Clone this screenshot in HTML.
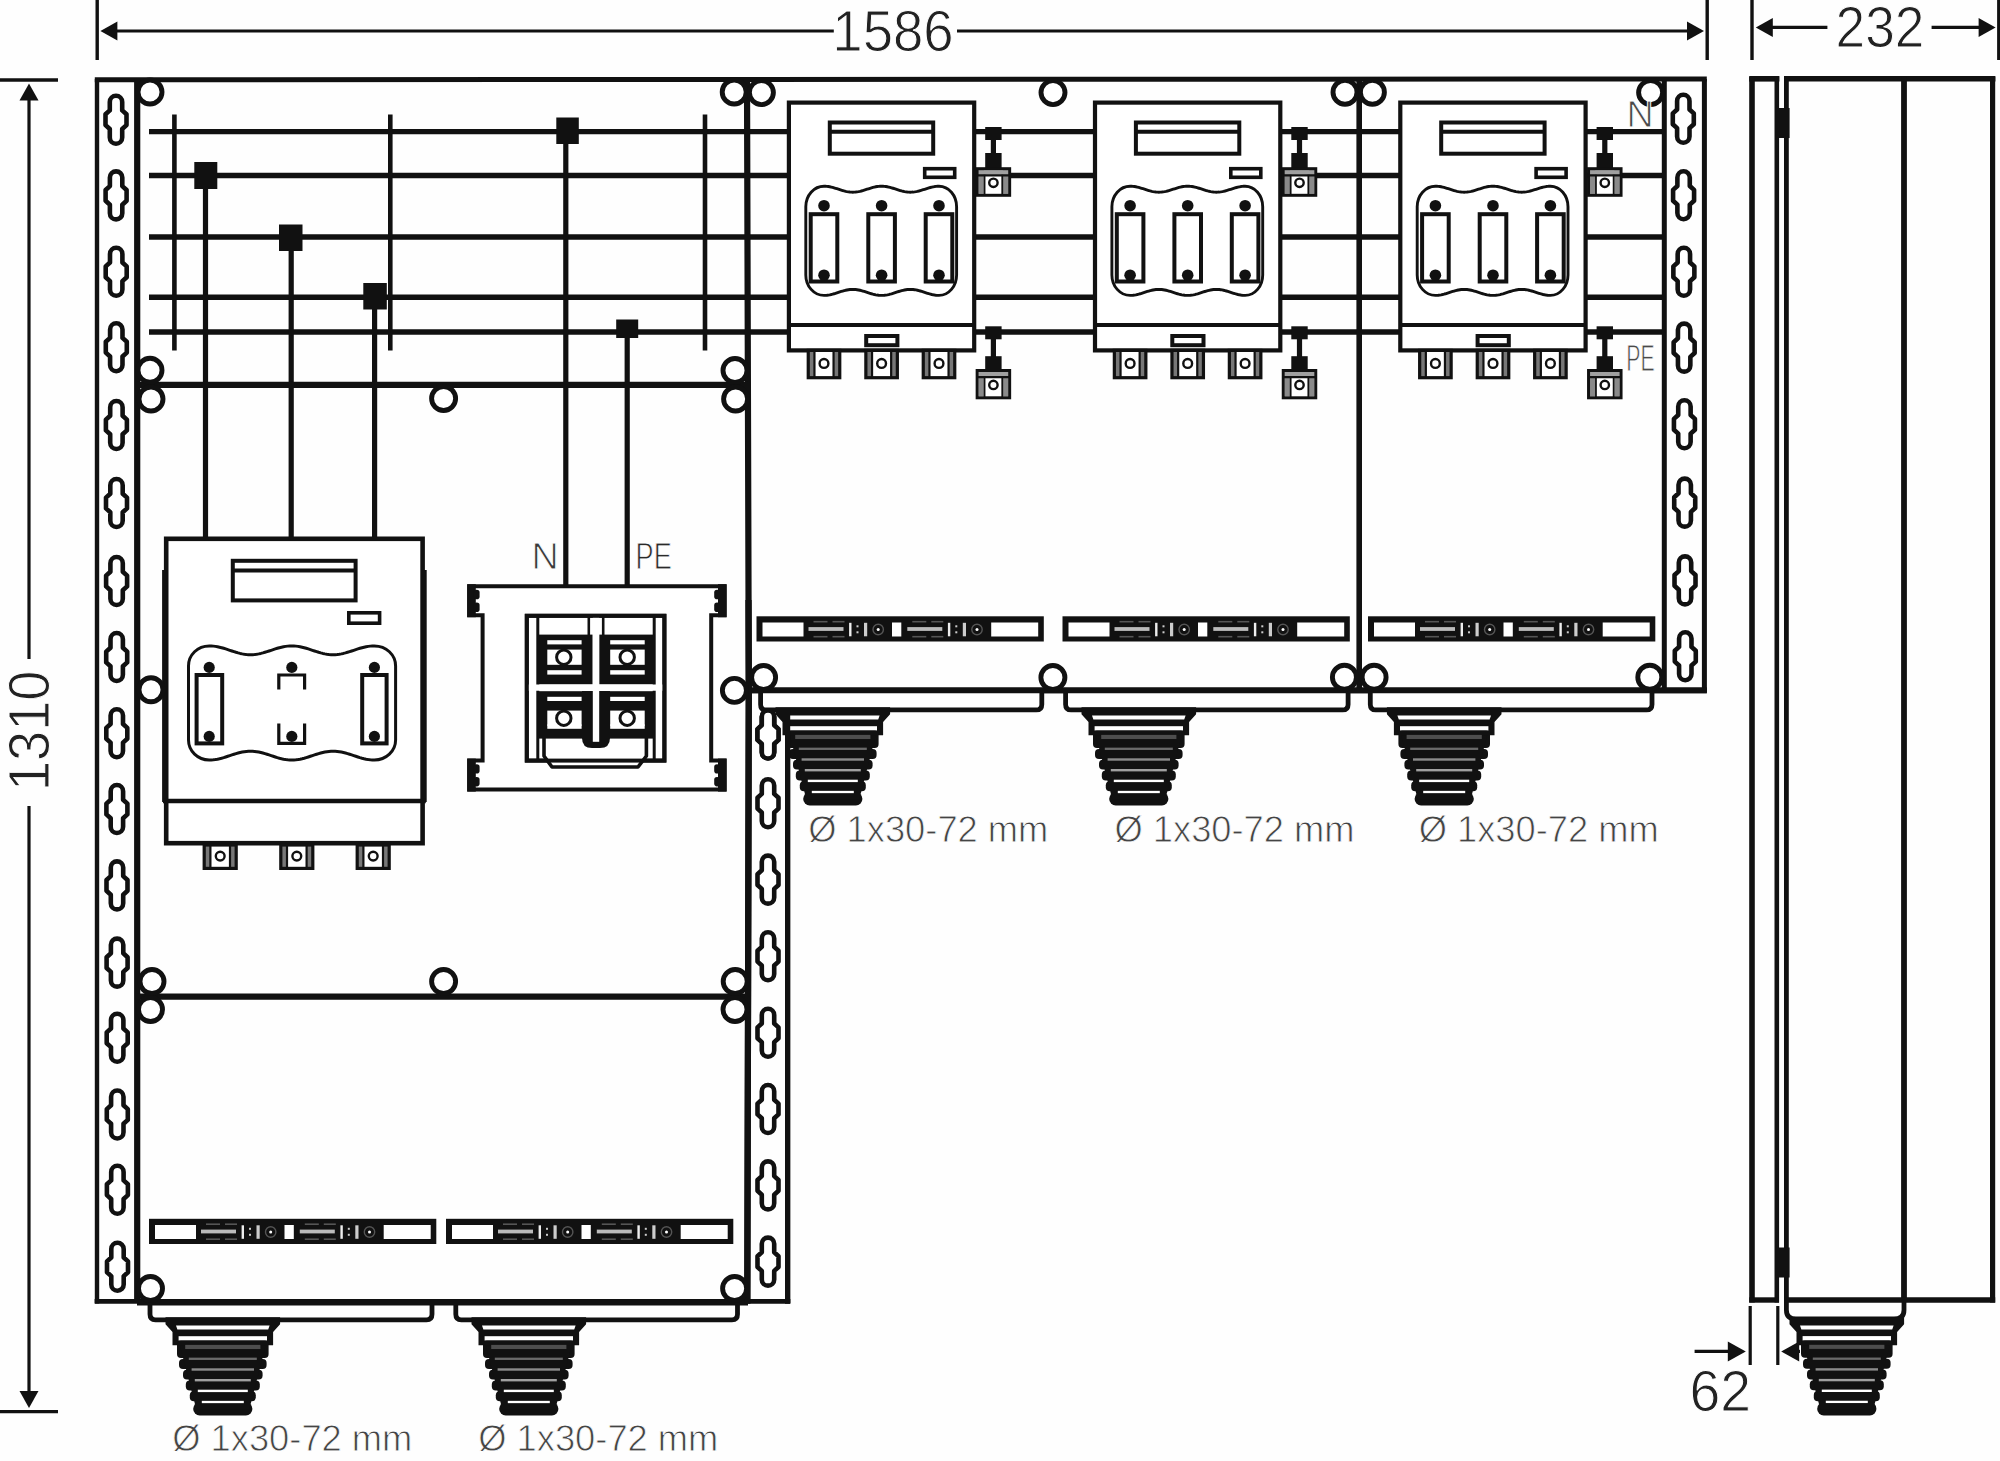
<!DOCTYPE html>
<html lang="en"><head><meta charset="utf-8"><title>Enclosure layout drawing</title>
<style>
html,body{margin:0;padding:0;background:#fff;}
body{width:2000px;height:1461px;overflow:hidden;}
svg{display:block;font-family:"Liberation Sans",sans-serif;}
</style></head><body>
<svg width="2000" height="1461" viewBox="0 0 2000 1461">
<rect x="0" y="0" width="2000" height="1461" fill="#fefefe"/>
<line x1="149" y1="131.6" x2="1664" y2="131.6" stroke="#111" stroke-width="5.4" stroke-linecap="butt"/>
<line x1="149" y1="175.5" x2="1664" y2="175.5" stroke="#111" stroke-width="5.4" stroke-linecap="butt"/>
<line x1="149" y1="237.0" x2="1664" y2="237.0" stroke="#111" stroke-width="5.4" stroke-linecap="butt"/>
<line x1="149" y1="297.3" x2="1664" y2="297.3" stroke="#111" stroke-width="5.4" stroke-linecap="butt"/>
<line x1="149" y1="332.0" x2="1664" y2="332.0" stroke="#111" stroke-width="5.4" stroke-linecap="butt"/>
<line x1="174.4" y1="114.5" x2="174.4" y2="350.5" stroke="#111" stroke-width="4.6" stroke-linecap="butt"/>
<line x1="390.3" y1="114.5" x2="390.3" y2="350.5" stroke="#111" stroke-width="4.6" stroke-linecap="butt"/>
<line x1="705.0" y1="114.5" x2="705.0" y2="350.5" stroke="#111" stroke-width="4.6" stroke-linecap="butt"/>
<line x1="205.5" y1="175" x2="205.5" y2="540" stroke="#111" stroke-width="5.2" stroke-linecap="butt"/>
<line x1="291.2" y1="237" x2="291.2" y2="540" stroke="#111" stroke-width="5.2" stroke-linecap="butt"/>
<line x1="374.6" y1="297" x2="374.6" y2="540" stroke="#111" stroke-width="5.2" stroke-linecap="butt"/>
<line x1="565.8" y1="131" x2="565.8" y2="587" stroke="#111" stroke-width="5.2" stroke-linecap="butt"/>
<line x1="627.2" y1="330" x2="627.2" y2="587" stroke="#111" stroke-width="5.2" stroke-linecap="butt"/>
<rect x="194.30" y="162.00" width="23.00" height="27.00" fill="#111"/>
<rect x="279.00" y="224.50" width="23.50" height="26.50" fill="#111"/>
<rect x="363.30" y="283.00" width="23.50" height="26.50" fill="#111"/>
<rect x="556.30" y="117.50" width="22.50" height="26.50" fill="#111"/>
<rect x="616.20" y="319.50" width="22.00" height="18.50" fill="#111"/>
<line x1="94.8" y1="79.8" x2="1706.8" y2="78.9" stroke="#111" stroke-width="5.0" stroke-linecap="butt"/>
<line x1="97" y1="79" x2="97" y2="1303.5" stroke="#111" stroke-width="4.4" stroke-linecap="butt"/>
<line x1="137.2" y1="79" x2="137.2" y2="1301" stroke="#111" stroke-width="6.2" stroke-linecap="butt"/>
<path d="M747.0,79 L748.8,690 L747.3,1303.5" fill="none" stroke="#111" stroke-width="6.2" stroke-linejoin="round"/>
<line x1="94.8" y1="1301.2" x2="790.2" y2="1301.2" stroke="#111" stroke-width="4.6" stroke-linecap="butt"/>
<line x1="787.6" y1="709" x2="787.6" y2="1303.5" stroke="#111" stroke-width="5.2" stroke-linecap="butt"/>
<line x1="137" y1="384.8" x2="748" y2="384.8" stroke="#111" stroke-width="6.2" stroke-linecap="butt"/>
<line x1="137" y1="996.6" x2="748" y2="996.6" stroke="#111" stroke-width="6.2" stroke-linecap="butt"/>
<line x1="748" y1="690.3" x2="1706.8" y2="690.3" stroke="#111" stroke-width="5.8" stroke-linecap="butt"/>
<line x1="1359.2" y1="79" x2="1359.2" y2="690" stroke="#111" stroke-width="5.6" stroke-linecap="butt"/>
<line x1="1664.3" y1="79" x2="1664.3" y2="690" stroke="#111" stroke-width="5" stroke-linecap="butt"/>
<line x1="1704.4" y1="79" x2="1704.4" y2="692" stroke="#111" stroke-width="5" stroke-linecap="butt"/>
<path d="M109.79960869565217,101.9 A6.2,6.2 0 0 1 122.19960869565217,101.9 L122.19960869565217,110.4 L126.49960869565217,114.3 L126.49960869565217,125.10000000000001 L122.19960869565217,129.0 L122.19960869565217,137.5 A6.2,6.2 0 0 1 109.79960869565217,137.5 L109.79960869565217,129.0 L105.49960869565217,125.10000000000001 L105.49960869565217,114.3 L109.79960869565217,110.4 Z" fill="#fff" stroke="#111" stroke-width="4.6" stroke-linejoin="round"/>
<path d="M109.89834782608695,177.6 A6.2,6.2 0 0 1 122.29834782608695,177.6 L122.29834782608695,186.1 L126.59834782608695,190.0 L126.59834782608695,200.8 L122.29834782608695,204.70000000000002 L122.29834782608695,213.20000000000002 A6.2,6.2 0 0 1 109.89834782608695,213.20000000000002 L109.89834782608695,204.70000000000002 L105.59834782608695,200.8 L105.59834782608695,190.0 L109.89834782608695,186.1 Z" fill="#fff" stroke="#111" stroke-width="4.6" stroke-linejoin="round"/>
<path d="M109.99799999999999,254.0 A6.2,6.2 0 0 1 122.398,254.0 L122.398,262.5 L126.698,266.40000000000003 L126.698,277.2 L122.398,281.1 L122.398,289.6 A6.2,6.2 0 0 1 109.99799999999999,289.6 L109.99799999999999,281.1 L105.698,277.2 L105.698,266.40000000000003 L109.99799999999999,262.5 Z" fill="#fff" stroke="#111" stroke-width="4.6" stroke-linejoin="round"/>
<path d="M110.09634782608696,329.4 A6.2,6.2 0 0 1 122.49634782608696,329.4 L122.49634782608696,337.9 L126.79634782608696,341.8 L126.79634782608696,352.59999999999997 L122.49634782608696,356.5 L122.49634782608696,365.0 A6.2,6.2 0 0 1 110.09634782608696,365.0 L110.09634782608696,356.5 L105.79634782608696,352.59999999999997 L105.79634782608696,341.8 L110.09634782608696,337.9 Z" fill="#fff" stroke="#111" stroke-width="4.6" stroke-linejoin="round"/>
<path d="M110.19782608695652,407.2 A6.2,6.2 0 0 1 122.59782608695653,407.2 L122.59782608695653,415.7 L126.89782608695653,419.6 L126.89782608695653,430.4 L122.59782608695653,434.3 L122.59782608695653,442.8 A6.2,6.2 0 0 1 110.19782608695652,442.8 L110.19782608695652,434.3 L105.89782608695653,430.4 L105.89782608695653,419.6 L110.19782608695652,415.7 Z" fill="#fff" stroke="#111" stroke-width="4.6" stroke-linejoin="round"/>
<path d="M110.2995652173913,485.2 A6.2,6.2 0 0 1 122.69956521739131,485.2 L122.69956521739131,493.7 L126.99956521739131,497.6 L126.99956521739131,508.4 L122.69956521739131,512.3 L122.69956521739131,520.8 A6.2,6.2 0 0 1 110.2995652173913,520.8 L110.2995652173913,512.3 L105.99956521739131,508.4 L105.99956521739131,497.6 L110.2995652173913,493.7 Z" fill="#fff" stroke="#111" stroke-width="4.6" stroke-linejoin="round"/>
<path d="M110.40130434782608,563.2 A6.2,6.2 0 0 1 122.80130434782609,563.2 L122.80130434782609,571.7 L127.10130434782609,575.6 L127.10130434782609,586.4 L122.80130434782609,590.3 L122.80130434782609,598.8 A6.2,6.2 0 0 1 110.40130434782608,598.8 L110.40130434782608,590.3 L106.10130434782609,586.4 L106.10130434782609,575.6 L110.40130434782608,571.7 Z" fill="#fff" stroke="#111" stroke-width="4.6" stroke-linejoin="round"/>
<path d="M110.50043478260869,639.2 A6.2,6.2 0 0 1 122.9004347826087,639.2 L122.9004347826087,647.7 L127.2004347826087,651.6 L127.2004347826087,662.4 L122.9004347826087,666.3 L122.9004347826087,674.8 A6.2,6.2 0 0 1 110.50043478260869,674.8 L110.50043478260869,666.3 L106.2004347826087,662.4 L106.2004347826087,651.6 L110.50043478260869,647.7 Z" fill="#fff" stroke="#111" stroke-width="4.6" stroke-linejoin="round"/>
<path d="M110.59995652173913,715.5 A6.2,6.2 0 0 1 122.99995652173914,715.5 L122.99995652173914,724.0 L127.29995652173913,727.9 L127.29995652173913,738.6999999999999 L122.99995652173914,742.5999999999999 L122.99995652173914,751.0999999999999 A6.2,6.2 0 0 1 110.59995652173913,751.0999999999999 L110.59995652173913,742.5999999999999 L106.29995652173913,738.6999999999999 L106.29995652173913,727.9 L110.59995652173913,724.0 Z" fill="#fff" stroke="#111" stroke-width="4.6" stroke-linejoin="round"/>
<path d="M110.69869565217391,791.2 A6.2,6.2 0 0 1 123.09869565217392,791.2 L123.09869565217392,799.7 L127.39869565217391,803.6 L127.39869565217391,814.4 L123.09869565217392,818.3 L123.09869565217392,826.8 A6.2,6.2 0 0 1 110.69869565217391,826.8 L110.69869565217391,818.3 L106.39869565217391,814.4 L106.39869565217391,803.6 L110.69869565217391,799.7 Z" fill="#fff" stroke="#111" stroke-width="4.6" stroke-linejoin="round"/>
<path d="M110.79834782608695,867.6 A6.2,6.2 0 0 1 123.19834782608696,867.6 L123.19834782608696,876.1 L127.49834782608696,880.0 L127.49834782608696,890.8 L123.19834782608696,894.6999999999999 L123.19834782608696,903.1999999999999 A6.2,6.2 0 0 1 110.79834782608695,903.1999999999999 L110.79834782608695,894.6999999999999 L106.49834782608696,890.8 L106.49834782608696,880.0 L110.79834782608695,876.1 Z" fill="#fff" stroke="#111" stroke-width="4.6" stroke-linejoin="round"/>
<path d="M110.89904347826086,944.8000000000001 A6.2,6.2 0 0 1 123.29904347826087,944.8000000000001 L123.29904347826087,953.3000000000001 L127.59904347826087,957.2 L127.59904347826087,968.0 L123.29904347826087,971.9 L123.29904347826087,980.4 A6.2,6.2 0 0 1 110.89904347826086,980.4 L110.89904347826086,971.9 L106.59904347826087,968.0 L106.59904347826087,957.2 L110.89904347826086,953.3000000000001 Z" fill="#fff" stroke="#111" stroke-width="4.6" stroke-linejoin="round"/>
<path d="M110.9971304347826,1020.0 A6.2,6.2 0 0 1 123.39713043478261,1020.0 L123.39713043478261,1028.5 L127.69713043478261,1032.3999999999999 L127.69713043478261,1043.2 L123.39713043478261,1047.1 L123.39713043478261,1055.6 A6.2,6.2 0 0 1 110.9971304347826,1055.6 L110.9971304347826,1047.1 L106.69713043478261,1043.2 L106.69713043478261,1032.3999999999999 L110.9971304347826,1028.5 Z" fill="#fff" stroke="#111" stroke-width="4.6" stroke-linejoin="round"/>
<path d="M111.09717391304348,1096.7 A6.2,6.2 0 0 1 123.49717391304348,1096.7 L123.49717391304348,1105.2 L127.79717391304348,1109.1 L127.79717391304348,1119.9 L123.49717391304348,1123.8 L123.49717391304348,1132.3 A6.2,6.2 0 0 1 111.09717391304348,1132.3 L111.09717391304348,1123.8 L106.79717391304348,1119.9 L106.79717391304348,1109.1 L111.09717391304348,1105.2 Z" fill="#fff" stroke="#111" stroke-width="4.6" stroke-linejoin="round"/>
<path d="M111.19526086956522,1171.9 A6.2,6.2 0 0 1 123.59526086956522,1171.9 L123.59526086956522,1180.4 L127.89526086956522,1184.3 L127.89526086956522,1195.1000000000001 L123.59526086956522,1199.0 L123.59526086956522,1207.5 A6.2,6.2 0 0 1 111.19526086956522,1207.5 L111.19526086956522,1199.0 L106.89526086956522,1195.1000000000001 L106.89526086956522,1184.3 L111.19526086956522,1180.4 Z" fill="#fff" stroke="#111" stroke-width="4.6" stroke-linejoin="round"/>
<path d="M111.29582608695652,1249.0 A6.2,6.2 0 0 1 123.69582608695653,1249.0 L123.69582608695653,1257.5 L127.99582608695653,1261.3999999999999 L127.99582608695653,1272.2 L123.69582608695653,1276.1 L123.69582608695653,1284.6 A6.2,6.2 0 0 1 111.29582608695652,1284.6 L111.29582608695652,1276.1 L106.99582608695653,1272.2 L106.99582608695653,1261.3999999999999 L111.29582608695652,1257.5 Z" fill="#fff" stroke="#111" stroke-width="4.6" stroke-linejoin="round"/>
<path d="M761.8,716.7 A6.2,6.2 0 0 1 774.2,716.7 L774.2,725.2 L778.5,729.1 L778.5,739.9 L774.2,743.8 L774.2,752.3 A6.2,6.2 0 0 1 761.8,752.3 L761.8,743.8 L757.5,739.9 L757.5,729.1 L761.8,725.2 Z" fill="#fff" stroke="#111" stroke-width="4.6" stroke-linejoin="round"/>
<path d="M761.8,785.4000000000001 A6.2,6.2 0 0 1 774.2,785.4000000000001 L774.2,793.9000000000001 L778.5,797.8000000000001 L778.5,808.6 L774.2,812.5 L774.2,821.0 A6.2,6.2 0 0 1 761.8,821.0 L761.8,812.5 L757.5,808.6 L757.5,797.8000000000001 L761.8,793.9000000000001 Z" fill="#fff" stroke="#111" stroke-width="4.6" stroke-linejoin="round"/>
<path d="M761.8,861.8000000000001 A6.2,6.2 0 0 1 774.2,861.8000000000001 L774.2,870.3000000000001 L778.5,874.2 L778.5,885.0 L774.2,888.9 L774.2,897.4 A6.2,6.2 0 0 1 761.8,897.4 L761.8,888.9 L757.5,885.0 L757.5,874.2 L761.8,870.3000000000001 Z" fill="#fff" stroke="#111" stroke-width="4.6" stroke-linejoin="round"/>
<path d="M761.8,938.4000000000001 A6.2,6.2 0 0 1 774.2,938.4000000000001 L774.2,946.9000000000001 L778.5,950.8000000000001 L778.5,961.6 L774.2,965.5 L774.2,974.0 A6.2,6.2 0 0 1 761.8,974.0 L761.8,965.5 L757.5,961.6 L757.5,950.8000000000001 L761.8,946.9000000000001 Z" fill="#fff" stroke="#111" stroke-width="4.6" stroke-linejoin="round"/>
<path d="M761.8,1015.0 A6.2,6.2 0 0 1 774.2,1015.0 L774.2,1023.5 L778.5,1027.3999999999999 L778.5,1038.2 L774.2,1042.1 L774.2,1050.6 A6.2,6.2 0 0 1 761.8,1050.6 L761.8,1042.1 L757.5,1038.2 L757.5,1027.3999999999999 L761.8,1023.5 Z" fill="#fff" stroke="#111" stroke-width="4.6" stroke-linejoin="round"/>
<path d="M761.8,1091.2 A6.2,6.2 0 0 1 774.2,1091.2 L774.2,1099.7 L778.5,1103.6 L778.5,1114.4 L774.2,1118.3 L774.2,1126.8 A6.2,6.2 0 0 1 761.8,1126.8 L761.8,1118.3 L757.5,1114.4 L757.5,1103.6 L761.8,1099.7 Z" fill="#fff" stroke="#111" stroke-width="4.6" stroke-linejoin="round"/>
<path d="M761.8,1167.6000000000001 A6.2,6.2 0 0 1 774.2,1167.6000000000001 L774.2,1176.1000000000001 L778.5,1180.0 L778.5,1190.8000000000002 L774.2,1194.7 L774.2,1203.2 A6.2,6.2 0 0 1 761.8,1203.2 L761.8,1194.7 L757.5,1190.8000000000002 L757.5,1180.0 L761.8,1176.1000000000001 Z" fill="#fff" stroke="#111" stroke-width="4.6" stroke-linejoin="round"/>
<path d="M761.8,1243.8 A6.2,6.2 0 0 1 774.2,1243.8 L774.2,1252.3 L778.5,1256.1999999999998 L778.5,1267.0 L774.2,1270.8999999999999 L774.2,1279.3999999999999 A6.2,6.2 0 0 1 761.8,1279.3999999999999 L761.8,1270.8999999999999 L757.5,1267.0 L757.5,1256.1999999999998 L761.8,1252.3 Z" fill="#fff" stroke="#111" stroke-width="4.6" stroke-linejoin="round"/>
<path d="M1677.0992592592593,101.0 A6.2,6.2 0 0 1 1689.4992592592594,101.0 L1689.4992592592594,109.5 L1693.7992592592593,113.39999999999999 L1693.7992592592593,124.2 L1689.4992592592594,128.1 L1689.4992592592594,136.60000000000002 A6.2,6.2 0 0 1 1677.0992592592593,136.60000000000002 L1677.0992592592593,128.1 L1672.7992592592593,124.2 L1672.7992592592593,113.39999999999999 L1677.0992592592593,109.5 Z" fill="#fff" stroke="#111" stroke-width="4.6" stroke-linejoin="round"/>
<path d="M1677.3825925925926,177.5 A6.2,6.2 0 0 1 1689.7825925925927,177.5 L1689.7825925925927,186.0 L1694.0825925925926,189.9 L1694.0825925925926,200.70000000000002 L1689.7825925925927,204.60000000000002 L1689.7825925925927,213.10000000000002 A6.2,6.2 0 0 1 1677.3825925925926,213.10000000000002 L1677.3825925925926,204.60000000000002 L1673.0825925925926,200.70000000000002 L1673.0825925925926,189.9 L1677.3825925925926,186.0 Z" fill="#fff" stroke="#111" stroke-width="4.6" stroke-linejoin="round"/>
<path d="M1677.6659259259259,254.0 A6.2,6.2 0 0 1 1690.065925925926,254.0 L1690.065925925926,262.5 L1694.365925925926,266.40000000000003 L1694.365925925926,277.2 L1690.065925925926,281.1 L1690.065925925926,289.6 A6.2,6.2 0 0 1 1677.6659259259259,289.6 L1677.6659259259259,281.1 L1673.365925925926,277.2 L1673.365925925926,266.40000000000003 L1677.6659259259259,262.5 Z" fill="#fff" stroke="#111" stroke-width="4.6" stroke-linejoin="round"/>
<path d="M1677.9466666666665,329.8 A6.2,6.2 0 0 1 1690.3466666666666,329.8 L1690.3466666666666,338.3 L1694.6466666666665,342.20000000000005 L1694.6466666666665,353.0 L1690.3466666666666,356.90000000000003 L1690.3466666666666,365.40000000000003 A6.2,6.2 0 0 1 1677.9466666666665,365.40000000000003 L1677.9466666666665,356.90000000000003 L1673.6466666666665,353.0 L1673.6466666666665,342.20000000000005 L1677.9466666666665,338.3 Z" fill="#fff" stroke="#111" stroke-width="4.6" stroke-linejoin="round"/>
<path d="M1678.2307407407407,406.5 A6.2,6.2 0 0 1 1690.6307407407407,406.5 L1690.6307407407407,415.0 L1694.9307407407407,418.90000000000003 L1694.9307407407407,429.7 L1690.6307407407407,433.6 L1690.6307407407407,442.1 A6.2,6.2 0 0 1 1678.2307407407407,442.1 L1678.2307407407407,433.6 L1673.9307407407407,429.7 L1673.9307407407407,418.90000000000003 L1678.2307407407407,415.0 Z" fill="#fff" stroke="#111" stroke-width="4.6" stroke-linejoin="round"/>
<path d="M1678.5207407407406,484.8 A6.2,6.2 0 0 1 1690.9207407407407,484.8 L1690.9207407407407,493.3 L1695.2207407407407,497.20000000000005 L1695.2207407407407,508.0 L1690.9207407407407,511.90000000000003 L1690.9207407407407,520.4 A6.2,6.2 0 0 1 1678.5207407407406,520.4 L1678.5207407407406,511.90000000000003 L1674.2207407407407,508.0 L1674.2207407407407,497.20000000000005 L1678.5207407407406,493.3 Z" fill="#fff" stroke="#111" stroke-width="4.6" stroke-linejoin="round"/>
<path d="M1678.8088888888888,562.6 A6.2,6.2 0 0 1 1691.2088888888889,562.6 L1691.2088888888889,571.1 L1695.5088888888888,575.0 L1695.5088888888888,585.8 L1691.2088888888889,589.6999999999999 L1691.2088888888889,598.1999999999999 A6.2,6.2 0 0 1 1678.8088888888888,598.1999999999999 L1678.8088888888888,589.6999999999999 L1674.5088888888888,585.8 L1674.5088888888888,575.0 L1678.8088888888888,571.1 Z" fill="#fff" stroke="#111" stroke-width="4.6" stroke-linejoin="round"/>
<path d="M1679.0896296296296,638.4000000000001 A6.2,6.2 0 0 1 1691.4896296296297,638.4000000000001 L1691.4896296296297,646.9000000000001 L1695.7896296296296,650.8000000000001 L1695.7896296296296,661.6 L1691.4896296296297,665.5 L1691.4896296296297,674.0 A6.2,6.2 0 0 1 1679.0896296296296,674.0 L1679.0896296296296,665.5 L1674.7896296296296,661.6 L1674.7896296296296,650.8000000000001 L1679.0896296296296,646.9000000000001 Z" fill="#fff" stroke="#111" stroke-width="4.6" stroke-linejoin="round"/>
<path d="M150,1301 L150,1314.3 Q150,1319.8 155.5,1319.8 L426.5,1319.8 Q432,1319.8 432,1314.3 L432,1301" fill="#fff" stroke="#111" stroke-width="4.8" stroke-linejoin="round"/>
<path d="M455.8,1301 L455.8,1314.3 Q455.8,1319.8 461.3,1319.8 L732.0,1319.8 Q737.5,1319.8 737.5,1314.3 L737.5,1301" fill="#fff" stroke="#111" stroke-width="4.8" stroke-linejoin="round"/>
<polygon points="165.50,1317.30 280.10,1317.30 280.10,1324.30 273.10,1332.10 273.10,1345.30 172.50,1345.30 172.50,1332.10 165.50,1324.30" fill="#111"/>
<polygon points="176.00,1325.50 269.60,1325.50 268.20,1329.60 177.40,1329.60" fill="#fff"/>
<rect x="178.60" y="1336.20" width="88.40" height="4.30" fill="#fff"/>
<rect x="177.00" y="1340.50" width="91.60" height="17.40" rx="4" fill="#111"/>
<rect x="179.00" y="1358.90" width="87.60" height="10.00" rx="4" fill="#111"/>
<rect x="183.00" y="1369.70" width="79.60" height="9.80" rx="4" fill="#111"/>
<rect x="185.80" y="1380.40" width="74.00" height="10.00" rx="4" fill="#111"/>
<rect x="189.80" y="1391.20" width="66.00" height="10.10" rx="4" fill="#111"/>
<rect x="193.20" y="1402.30" width="59.20" height="13.20" rx="6.5" fill="#111"/>
<polygon points="179.80,1345.30 265.80,1345.30 249.30,1409.30 196.30,1409.30" fill="#111"/>
<rect x="185.20" y="1344.90" width="75.20" height="4.10" fill="#4d4d4d"/>
<rect x="188.80" y="1357.65" width="68.00" height="2.30" fill="#6a6a6a"/>
<rect x="191.60" y="1368.30" width="62.40" height="2.40" fill="#8a8a8a"/>
<rect x="194.80" y="1379.00" width="56.00" height="2.40" fill="#a0a0a0"/>
<rect x="197.80" y="1389.70" width="50.00" height="2.40" fill="#fff"/>
<rect x="201.80" y="1400.85" width="42.00" height="2.30" fill="#fff"/>
<polygon points="471.50,1317.30 586.10,1317.30 586.10,1324.30 579.10,1332.10 579.10,1345.30 478.50,1345.30 478.50,1332.10 471.50,1324.30" fill="#111"/>
<polygon points="482.00,1325.50 575.60,1325.50 574.20,1329.60 483.40,1329.60" fill="#fff"/>
<rect x="484.60" y="1336.20" width="88.40" height="4.30" fill="#fff"/>
<rect x="483.00" y="1340.50" width="91.60" height="17.40" rx="4" fill="#111"/>
<rect x="485.00" y="1358.90" width="87.60" height="10.00" rx="4" fill="#111"/>
<rect x="489.00" y="1369.70" width="79.60" height="9.80" rx="4" fill="#111"/>
<rect x="491.80" y="1380.40" width="74.00" height="10.00" rx="4" fill="#111"/>
<rect x="495.80" y="1391.20" width="66.00" height="10.10" rx="4" fill="#111"/>
<rect x="499.20" y="1402.30" width="59.20" height="13.20" rx="6.5" fill="#111"/>
<polygon points="485.80,1345.30 571.80,1345.30 555.30,1409.30 502.30,1409.30" fill="#111"/>
<rect x="491.20" y="1344.90" width="75.20" height="4.10" fill="#4d4d4d"/>
<rect x="494.80" y="1357.65" width="68.00" height="2.30" fill="#6a6a6a"/>
<rect x="497.60" y="1368.30" width="62.40" height="2.40" fill="#8a8a8a"/>
<rect x="500.80" y="1379.00" width="56.00" height="2.40" fill="#a0a0a0"/>
<rect x="503.80" y="1389.70" width="50.00" height="2.40" fill="#fff"/>
<rect x="507.80" y="1400.85" width="42.00" height="2.30" fill="#fff"/>
<path d="M760.6,689.6 L760.6,704.4 Q760.6,709.9 766.1,709.9 L1036.3,709.9 Q1041.8,709.9 1041.8,704.4 L1041.8,689.6" fill="#fff" stroke="#111" stroke-width="4.8" stroke-linejoin="round"/>
<path d="M1065.6,689.6 L1065.6,704.4 Q1065.6,709.9 1071.1,709.9 L1342.6,709.9 Q1348.1,709.9 1348.1,704.4 L1348.1,689.6" fill="#fff" stroke="#111" stroke-width="4.8" stroke-linejoin="round"/>
<path d="M1370.3,689.6 L1370.3,704.4 Q1370.3,709.9 1375.8,709.9 L1646.5,709.9 Q1652.0,709.9 1652.0,704.4 L1652.0,689.6" fill="#fff" stroke="#111" stroke-width="4.8" stroke-linejoin="round"/>
<polygon points="775.50,707.30 890.10,707.30 890.10,714.30 883.10,722.10 883.10,735.30 782.50,735.30 782.50,722.10 775.50,714.30" fill="#111"/>
<polygon points="786.00,715.50 879.60,715.50 878.20,719.60 787.40,719.60" fill="#fff"/>
<rect x="788.60" y="726.20" width="88.40" height="4.30" fill="#fff"/>
<rect x="787.00" y="730.50" width="91.60" height="17.40" rx="4" fill="#111"/>
<rect x="789.00" y="748.90" width="87.60" height="10.00" rx="4" fill="#111"/>
<rect x="793.00" y="759.70" width="79.60" height="9.80" rx="4" fill="#111"/>
<rect x="795.80" y="770.40" width="74.00" height="10.00" rx="4" fill="#111"/>
<rect x="799.80" y="781.20" width="66.00" height="10.10" rx="4" fill="#111"/>
<rect x="803.20" y="792.30" width="59.20" height="13.20" rx="6.5" fill="#111"/>
<polygon points="789.80,735.30 875.80,735.30 859.30,799.30 806.30,799.30" fill="#111"/>
<rect x="795.20" y="734.90" width="75.20" height="4.10" fill="#4d4d4d"/>
<rect x="798.80" y="747.65" width="68.00" height="2.30" fill="#6a6a6a"/>
<rect x="801.60" y="758.30" width="62.40" height="2.40" fill="#8a8a8a"/>
<rect x="804.80" y="769.00" width="56.00" height="2.40" fill="#a0a0a0"/>
<rect x="807.80" y="779.70" width="50.00" height="2.40" fill="#fff"/>
<rect x="811.80" y="790.85" width="42.00" height="2.30" fill="#fff"/>
<polygon points="1081.50,707.30 1196.10,707.30 1196.10,714.30 1189.10,722.10 1189.10,735.30 1088.50,735.30 1088.50,722.10 1081.50,714.30" fill="#111"/>
<polygon points="1092.00,715.50 1185.60,715.50 1184.20,719.60 1093.40,719.60" fill="#fff"/>
<rect x="1094.60" y="726.20" width="88.40" height="4.30" fill="#fff"/>
<rect x="1093.00" y="730.50" width="91.60" height="17.40" rx="4" fill="#111"/>
<rect x="1095.00" y="748.90" width="87.60" height="10.00" rx="4" fill="#111"/>
<rect x="1099.00" y="759.70" width="79.60" height="9.80" rx="4" fill="#111"/>
<rect x="1101.80" y="770.40" width="74.00" height="10.00" rx="4" fill="#111"/>
<rect x="1105.80" y="781.20" width="66.00" height="10.10" rx="4" fill="#111"/>
<rect x="1109.20" y="792.30" width="59.20" height="13.20" rx="6.5" fill="#111"/>
<polygon points="1095.80,735.30 1181.80,735.30 1165.30,799.30 1112.30,799.30" fill="#111"/>
<rect x="1101.20" y="734.90" width="75.20" height="4.10" fill="#4d4d4d"/>
<rect x="1104.80" y="747.65" width="68.00" height="2.30" fill="#6a6a6a"/>
<rect x="1107.60" y="758.30" width="62.40" height="2.40" fill="#8a8a8a"/>
<rect x="1110.80" y="769.00" width="56.00" height="2.40" fill="#a0a0a0"/>
<rect x="1113.80" y="779.70" width="50.00" height="2.40" fill="#fff"/>
<rect x="1117.80" y="790.85" width="42.00" height="2.30" fill="#fff"/>
<polygon points="1386.90,707.30 1501.50,707.30 1501.50,714.30 1494.50,722.10 1494.50,735.30 1393.90,735.30 1393.90,722.10 1386.90,714.30" fill="#111"/>
<polygon points="1397.40,715.50 1491.00,715.50 1489.60,719.60 1398.80,719.60" fill="#fff"/>
<rect x="1400.00" y="726.20" width="88.40" height="4.30" fill="#fff"/>
<rect x="1398.40" y="730.50" width="91.60" height="17.40" rx="4" fill="#111"/>
<rect x="1400.40" y="748.90" width="87.60" height="10.00" rx="4" fill="#111"/>
<rect x="1404.40" y="759.70" width="79.60" height="9.80" rx="4" fill="#111"/>
<rect x="1407.20" y="770.40" width="74.00" height="10.00" rx="4" fill="#111"/>
<rect x="1411.20" y="781.20" width="66.00" height="10.10" rx="4" fill="#111"/>
<rect x="1414.60" y="792.30" width="59.20" height="13.20" rx="6.5" fill="#111"/>
<polygon points="1401.20,735.30 1487.20,735.30 1470.70,799.30 1417.70,799.30" fill="#111"/>
<rect x="1406.60" y="734.90" width="75.20" height="4.10" fill="#4d4d4d"/>
<rect x="1410.20" y="747.65" width="68.00" height="2.30" fill="#6a6a6a"/>
<rect x="1413.00" y="758.30" width="62.40" height="2.40" fill="#8a8a8a"/>
<rect x="1416.20" y="769.00" width="56.00" height="2.40" fill="#a0a0a0"/>
<rect x="1419.20" y="779.70" width="50.00" height="2.40" fill="#fff"/>
<rect x="1423.20" y="790.85" width="42.00" height="2.30" fill="#fff"/>
<line x1="94.8" y1="1301.2" x2="790.2" y2="1301.2" stroke="#111" stroke-width="4.6" stroke-linecap="butt"/>
<line x1="137" y1="1302.4" x2="748" y2="1302.4" stroke="#111" stroke-width="6" stroke-linecap="butt"/>
<line x1="748" y1="690.3" x2="1706.8" y2="690.3" stroke="#111" stroke-width="5.8" stroke-linecap="butt"/>
<path d="M748.5,600 L748.8,690 L747.3,1303.5" fill="none" stroke="#111" stroke-width="6.2" stroke-linejoin="round"/>
<line x1="787.6" y1="709" x2="787.6" y2="1303.5" stroke="#111" stroke-width="5.2" stroke-linecap="butt"/>
<path d="M761.8,716.7 A6.2,6.2 0 0 1 774.2,716.7 L774.2,725.2 L778.5,729.1 L778.5,739.9 L774.2,743.8 L774.2,752.3 A6.2,6.2 0 0 1 761.8,752.3 L761.8,743.8 L757.5,739.9 L757.5,729.1 L761.8,725.2 Z" fill="#fff" stroke="#111" stroke-width="4.6" stroke-linejoin="round"/>
<rect x="149.00" y="1218.80" width="287.30" height="25.20" fill="#111"/>
<rect x="155.00" y="1225.00" width="41.00" height="14.00" fill="#fff"/>
<rect x="284.50" y="1225.00" width="9.30" height="14.00" fill="#fff"/>
<rect x="383.70" y="1225.00" width="47.00" height="14.00" fill="#fff"/>
<rect x="201.00" y="1229.60" width="35.00" height="3.80" fill="#bbb"/>
<rect x="206.00" y="1223.40" width="14.00" height="1.60" fill="#555"/>
<rect x="225.00" y="1223.40" width="12.00" height="1.60" fill="#555"/>
<rect x="206.00" y="1238.40" width="14.00" height="1.60" fill="#555"/>
<rect x="225.00" y="1238.40" width="12.00" height="1.60" fill="#555"/>
<rect x="241.60" y="1225.30" width="2.40" height="13.50" fill="#eee"/>
<rect x="256.50" y="1225.30" width="3.20" height="13.50" fill="#ccc"/>
<rect x="249.00" y="1227.80" width="2.00" height="2.00" fill="#ccc"/>
<rect x="249.00" y="1233.80" width="2.00" height="2.00" fill="#ccc"/>
<circle cx="270.70" cy="1232.00" r="5.2" fill="none" stroke="#555" stroke-width="1.4"/>
<circle cx="270.70" cy="1232.00" r="1.5" fill="#fff"/>
<rect x="299.80" y="1229.60" width="35.00" height="3.80" fill="#bbb"/>
<rect x="304.80" y="1223.40" width="14.00" height="1.60" fill="#555"/>
<rect x="323.80" y="1223.40" width="12.00" height="1.60" fill="#555"/>
<rect x="304.80" y="1238.40" width="14.00" height="1.60" fill="#555"/>
<rect x="323.80" y="1238.40" width="12.00" height="1.60" fill="#555"/>
<rect x="340.40" y="1225.30" width="2.40" height="13.50" fill="#eee"/>
<rect x="355.30" y="1225.30" width="3.20" height="13.50" fill="#ccc"/>
<rect x="347.80" y="1227.80" width="2.00" height="2.00" fill="#ccc"/>
<rect x="347.80" y="1233.80" width="2.00" height="2.00" fill="#ccc"/>
<circle cx="369.50" cy="1232.00" r="5.2" fill="none" stroke="#555" stroke-width="1.4"/>
<circle cx="369.50" cy="1232.00" r="1.5" fill="#fff"/>
<rect x="446.00" y="1218.80" width="287.30" height="25.20" fill="#111"/>
<rect x="452.00" y="1225.00" width="41.00" height="14.00" fill="#fff"/>
<rect x="581.50" y="1225.00" width="9.30" height="14.00" fill="#fff"/>
<rect x="680.70" y="1225.00" width="47.00" height="14.00" fill="#fff"/>
<rect x="498.00" y="1229.60" width="35.00" height="3.80" fill="#bbb"/>
<rect x="503.00" y="1223.40" width="14.00" height="1.60" fill="#555"/>
<rect x="522.00" y="1223.40" width="12.00" height="1.60" fill="#555"/>
<rect x="503.00" y="1238.40" width="14.00" height="1.60" fill="#555"/>
<rect x="522.00" y="1238.40" width="12.00" height="1.60" fill="#555"/>
<rect x="538.60" y="1225.30" width="2.40" height="13.50" fill="#eee"/>
<rect x="553.50" y="1225.30" width="3.20" height="13.50" fill="#ccc"/>
<rect x="546.00" y="1227.80" width="2.00" height="2.00" fill="#ccc"/>
<rect x="546.00" y="1233.80" width="2.00" height="2.00" fill="#ccc"/>
<circle cx="567.70" cy="1232.00" r="5.2" fill="none" stroke="#555" stroke-width="1.4"/>
<circle cx="567.70" cy="1232.00" r="1.5" fill="#fff"/>
<rect x="596.80" y="1229.60" width="35.00" height="3.80" fill="#bbb"/>
<rect x="601.80" y="1223.40" width="14.00" height="1.60" fill="#555"/>
<rect x="620.80" y="1223.40" width="12.00" height="1.60" fill="#555"/>
<rect x="601.80" y="1238.40" width="14.00" height="1.60" fill="#555"/>
<rect x="620.80" y="1238.40" width="12.00" height="1.60" fill="#555"/>
<rect x="637.40" y="1225.30" width="2.40" height="13.50" fill="#eee"/>
<rect x="652.30" y="1225.30" width="3.20" height="13.50" fill="#ccc"/>
<rect x="644.80" y="1227.80" width="2.00" height="2.00" fill="#ccc"/>
<rect x="644.80" y="1233.80" width="2.00" height="2.00" fill="#ccc"/>
<circle cx="666.50" cy="1232.00" r="5.2" fill="none" stroke="#555" stroke-width="1.4"/>
<circle cx="666.50" cy="1232.00" r="1.5" fill="#fff"/>
<rect x="756.50" y="616.30" width="287.30" height="25.20" fill="#111"/>
<rect x="762.50" y="622.50" width="41.00" height="14.00" fill="#fff"/>
<rect x="892.00" y="622.50" width="9.30" height="14.00" fill="#fff"/>
<rect x="991.20" y="622.50" width="47.00" height="14.00" fill="#fff"/>
<rect x="808.50" y="627.10" width="35.00" height="3.80" fill="#bbb"/>
<rect x="813.50" y="620.90" width="14.00" height="1.60" fill="#555"/>
<rect x="832.50" y="620.90" width="12.00" height="1.60" fill="#555"/>
<rect x="813.50" y="635.90" width="14.00" height="1.60" fill="#555"/>
<rect x="832.50" y="635.90" width="12.00" height="1.60" fill="#555"/>
<rect x="849.10" y="622.80" width="2.40" height="13.50" fill="#eee"/>
<rect x="864.00" y="622.80" width="3.20" height="13.50" fill="#ccc"/>
<rect x="856.50" y="625.30" width="2.00" height="2.00" fill="#ccc"/>
<rect x="856.50" y="631.30" width="2.00" height="2.00" fill="#ccc"/>
<circle cx="878.20" cy="629.50" r="5.2" fill="none" stroke="#555" stroke-width="1.4"/>
<circle cx="878.20" cy="629.50" r="1.5" fill="#fff"/>
<rect x="907.30" y="627.10" width="35.00" height="3.80" fill="#bbb"/>
<rect x="912.30" y="620.90" width="14.00" height="1.60" fill="#555"/>
<rect x="931.30" y="620.90" width="12.00" height="1.60" fill="#555"/>
<rect x="912.30" y="635.90" width="14.00" height="1.60" fill="#555"/>
<rect x="931.30" y="635.90" width="12.00" height="1.60" fill="#555"/>
<rect x="947.90" y="622.80" width="2.40" height="13.50" fill="#eee"/>
<rect x="962.80" y="622.80" width="3.20" height="13.50" fill="#ccc"/>
<rect x="955.30" y="625.30" width="2.00" height="2.00" fill="#ccc"/>
<rect x="955.30" y="631.30" width="2.00" height="2.00" fill="#ccc"/>
<circle cx="977.00" cy="629.50" r="5.2" fill="none" stroke="#555" stroke-width="1.4"/>
<circle cx="977.00" cy="629.50" r="1.5" fill="#fff"/>
<rect x="1062.50" y="616.30" width="287.30" height="25.20" fill="#111"/>
<rect x="1068.50" y="622.50" width="41.00" height="14.00" fill="#fff"/>
<rect x="1198.00" y="622.50" width="9.30" height="14.00" fill="#fff"/>
<rect x="1297.20" y="622.50" width="47.00" height="14.00" fill="#fff"/>
<rect x="1114.50" y="627.10" width="35.00" height="3.80" fill="#bbb"/>
<rect x="1119.50" y="620.90" width="14.00" height="1.60" fill="#555"/>
<rect x="1138.50" y="620.90" width="12.00" height="1.60" fill="#555"/>
<rect x="1119.50" y="635.90" width="14.00" height="1.60" fill="#555"/>
<rect x="1138.50" y="635.90" width="12.00" height="1.60" fill="#555"/>
<rect x="1155.10" y="622.80" width="2.40" height="13.50" fill="#eee"/>
<rect x="1170.00" y="622.80" width="3.20" height="13.50" fill="#ccc"/>
<rect x="1162.50" y="625.30" width="2.00" height="2.00" fill="#ccc"/>
<rect x="1162.50" y="631.30" width="2.00" height="2.00" fill="#ccc"/>
<circle cx="1184.20" cy="629.50" r="5.2" fill="none" stroke="#555" stroke-width="1.4"/>
<circle cx="1184.20" cy="629.50" r="1.5" fill="#fff"/>
<rect x="1213.30" y="627.10" width="35.00" height="3.80" fill="#bbb"/>
<rect x="1218.30" y="620.90" width="14.00" height="1.60" fill="#555"/>
<rect x="1237.30" y="620.90" width="12.00" height="1.60" fill="#555"/>
<rect x="1218.30" y="635.90" width="14.00" height="1.60" fill="#555"/>
<rect x="1237.30" y="635.90" width="12.00" height="1.60" fill="#555"/>
<rect x="1253.90" y="622.80" width="2.40" height="13.50" fill="#eee"/>
<rect x="1268.80" y="622.80" width="3.20" height="13.50" fill="#ccc"/>
<rect x="1261.30" y="625.30" width="2.00" height="2.00" fill="#ccc"/>
<rect x="1261.30" y="631.30" width="2.00" height="2.00" fill="#ccc"/>
<circle cx="1283.00" cy="629.50" r="5.2" fill="none" stroke="#555" stroke-width="1.4"/>
<circle cx="1283.00" cy="629.50" r="1.5" fill="#fff"/>
<rect x="1368.00" y="616.30" width="287.30" height="25.20" fill="#111"/>
<rect x="1374.00" y="622.50" width="41.00" height="14.00" fill="#fff"/>
<rect x="1503.50" y="622.50" width="9.30" height="14.00" fill="#fff"/>
<rect x="1602.70" y="622.50" width="47.00" height="14.00" fill="#fff"/>
<rect x="1420.00" y="627.10" width="35.00" height="3.80" fill="#bbb"/>
<rect x="1425.00" y="620.90" width="14.00" height="1.60" fill="#555"/>
<rect x="1444.00" y="620.90" width="12.00" height="1.60" fill="#555"/>
<rect x="1425.00" y="635.90" width="14.00" height="1.60" fill="#555"/>
<rect x="1444.00" y="635.90" width="12.00" height="1.60" fill="#555"/>
<rect x="1460.60" y="622.80" width="2.40" height="13.50" fill="#eee"/>
<rect x="1475.50" y="622.80" width="3.20" height="13.50" fill="#ccc"/>
<rect x="1468.00" y="625.30" width="2.00" height="2.00" fill="#ccc"/>
<rect x="1468.00" y="631.30" width="2.00" height="2.00" fill="#ccc"/>
<circle cx="1489.70" cy="629.50" r="5.2" fill="none" stroke="#555" stroke-width="1.4"/>
<circle cx="1489.70" cy="629.50" r="1.5" fill="#fff"/>
<rect x="1518.80" y="627.10" width="35.00" height="3.80" fill="#bbb"/>
<rect x="1523.80" y="620.90" width="14.00" height="1.60" fill="#555"/>
<rect x="1542.80" y="620.90" width="12.00" height="1.60" fill="#555"/>
<rect x="1523.80" y="635.90" width="14.00" height="1.60" fill="#555"/>
<rect x="1542.80" y="635.90" width="12.00" height="1.60" fill="#555"/>
<rect x="1559.40" y="622.80" width="2.40" height="13.50" fill="#eee"/>
<rect x="1574.30" y="622.80" width="3.20" height="13.50" fill="#ccc"/>
<rect x="1566.80" y="625.30" width="2.00" height="2.00" fill="#ccc"/>
<rect x="1566.80" y="631.30" width="2.00" height="2.00" fill="#ccc"/>
<circle cx="1588.50" cy="629.50" r="5.2" fill="none" stroke="#555" stroke-width="1.4"/>
<circle cx="1588.50" cy="629.50" r="1.5" fill="#fff"/>
<rect x="788.90" y="102.60" width="185.30" height="247.80" fill="#fff" stroke="#111" stroke-width="4.2"/>
<line x1="788.9" y1="325" x2="974.2" y2="325" stroke="#111" stroke-width="3.8" stroke-linecap="butt"/>
<rect x="829.80" y="122.50" width="103.40" height="31.20" fill="none" stroke="#111" stroke-width="4"/>
<line x1="829.8" y1="131.8" x2="933.2" y2="131.8" stroke="#111" stroke-width="4" stroke-linecap="butt"/>
<rect x="924.70" y="168.70" width="30.00" height="8.60" fill="none" stroke="#111" stroke-width="3.6"/>
<path d="M805.80,206.70 A18.20,20.50 0 0 1 824.00,186.20 L825.44,186.24 L826.88,186.35 L828.31,186.53 L829.75,186.77 L831.19,187.08 L832.62,187.43 L834.06,187.83 L835.50,188.27 L836.94,188.72 L838.38,189.19 L839.81,189.66 L841.25,190.12 L842.69,190.55 L844.12,190.95 L845.56,191.31 L847.00,191.62 L848.44,191.87 L849.88,192.05 L851.31,192.16 L852.75,192.20 L854.19,192.17 L855.62,192.06 L857.06,191.88 L858.50,191.64 L859.94,191.34 L861.38,190.98 L862.81,190.58 L864.25,190.15 L865.69,189.69 L867.12,189.22 L868.56,188.76 L870.00,188.30 L871.44,187.86 L872.88,187.46 L874.31,187.10 L875.75,186.79 L877.19,186.54 L878.62,186.36 L880.06,186.24 L881.50,186.20 L882.94,186.23 L884.38,186.34 L885.81,186.51 L887.25,186.75 L888.69,187.05 L890.12,187.41 L891.56,187.80 L893.00,188.24 L894.44,188.69 L895.88,189.16 L897.31,189.63 L898.75,190.09 L900.19,190.52 L901.62,190.93 L903.06,191.29 L904.50,191.60 L905.94,191.85 L907.38,192.04 L908.81,192.16 L910.25,192.20 L911.69,192.17 L913.12,192.07 L914.56,191.90 L916.00,191.66 L917.44,191.36 L918.88,191.01 L920.31,190.61 L921.75,190.18 L923.19,189.72 L924.62,189.26 L926.06,188.79 L927.50,188.33 L928.94,187.89 L930.38,187.49 L931.81,187.12 L933.25,186.81 L934.69,186.56 L936.12,186.37 L937.56,186.25 L939.00,186.20 A17.60,20.50 0 0 1 956.60,206.70 L956.60,274.90 A17.60,20.50 0 0 1 939.00,295.40 L937.56,295.35 L936.12,295.23 L934.69,295.04 L933.25,294.79 L931.81,294.48 L930.38,294.11 L928.94,293.71 L927.50,293.27 L926.06,292.81 L924.62,292.34 L923.19,291.88 L921.75,291.42 L920.31,290.99 L918.88,290.59 L917.44,290.24 L916.00,289.94 L914.56,289.70 L913.12,289.53 L911.69,289.43 L910.25,289.40 L908.81,289.44 L907.38,289.56 L905.94,289.75 L904.50,290.00 L903.06,290.31 L901.62,290.67 L900.19,291.08 L898.75,291.51 L897.31,291.97 L895.88,292.44 L894.44,292.91 L893.00,293.36 L891.56,293.80 L890.12,294.19 L888.69,294.55 L887.25,294.85 L885.81,295.09 L884.38,295.26 L882.94,295.37 L881.50,295.40 L880.06,295.36 L878.62,295.24 L877.19,295.06 L875.75,294.81 L874.31,294.50 L872.88,294.14 L871.44,293.74 L870.00,293.30 L868.56,292.84 L867.12,292.38 L865.69,291.91 L864.25,291.45 L862.81,291.02 L861.38,290.62 L859.94,290.26 L858.50,289.96 L857.06,289.72 L855.62,289.54 L854.19,289.43 L852.75,289.40 L851.31,289.44 L849.88,289.55 L848.44,289.73 L847.00,289.98 L845.56,290.29 L844.12,290.65 L842.69,291.05 L841.25,291.48 L839.81,291.94 L838.38,292.41 L836.94,292.88 L835.50,293.33 L834.06,293.77 L832.62,294.17 L831.19,294.52 L829.75,294.83 L828.31,295.07 L826.88,295.25 L825.44,295.36 L824.00,295.40 A18.20,20.50 0 0 1 805.80,274.90 Z" fill="none" stroke="#111" stroke-width="2.9" stroke-linejoin="round"/>
<rect x="810.70" y="214.20" width="26.60" height="67.30" fill="none" stroke="#111" stroke-width="4"/>
<circle cx="824.00" cy="205.70" r="5.8" fill="#111"/>
<circle cx="824.00" cy="275.20" r="5.8" fill="#111"/>
<rect x="868.30" y="214.20" width="26.60" height="67.30" fill="none" stroke="#111" stroke-width="4"/>
<circle cx="881.60" cy="205.70" r="5.8" fill="#111"/>
<circle cx="881.60" cy="275.20" r="5.8" fill="#111"/>
<rect x="925.70" y="214.20" width="26.60" height="67.30" fill="none" stroke="#111" stroke-width="4"/>
<circle cx="939.00" cy="205.70" r="5.8" fill="#111"/>
<circle cx="939.00" cy="275.20" r="5.8" fill="#111"/>
<rect x="866.20" y="336.00" width="31.20" height="9.20" fill="none" stroke="#111" stroke-width="4"/>
<rect x="808.25" y="350.40" width="31.50" height="27.30" fill="#777"/>
<rect x="814.75" y="350.40" width="18.50" height="27.30" fill="#fff"/>
<rect x="808.25" y="350.40" width="31.50" height="27.30" fill="none" stroke="#111" stroke-width="3.2"/>
<line x1="814.45" y1="350.4" x2="814.45" y2="377.7" stroke="#111" stroke-width="2.2" stroke-linecap="butt"/>
<line x1="833.55" y1="350.4" x2="833.55" y2="377.7" stroke="#111" stroke-width="2.2" stroke-linecap="butt"/>
<circle cx="824.00" cy="363.45" r="4.4" fill="#fff" stroke="#111" stroke-width="2.4"/>
<rect x="865.85" y="350.40" width="31.50" height="27.30" fill="#777"/>
<rect x="872.35" y="350.40" width="18.50" height="27.30" fill="#fff"/>
<rect x="865.85" y="350.40" width="31.50" height="27.30" fill="none" stroke="#111" stroke-width="3.2"/>
<line x1="872.0500000000001" y1="350.4" x2="872.0500000000001" y2="377.7" stroke="#111" stroke-width="2.2" stroke-linecap="butt"/>
<line x1="891.15" y1="350.4" x2="891.15" y2="377.7" stroke="#111" stroke-width="2.2" stroke-linecap="butt"/>
<circle cx="881.60" cy="363.45" r="4.4" fill="#fff" stroke="#111" stroke-width="2.4"/>
<rect x="923.25" y="350.40" width="31.50" height="27.30" fill="#777"/>
<rect x="929.75" y="350.40" width="18.50" height="27.30" fill="#fff"/>
<rect x="923.25" y="350.40" width="31.50" height="27.30" fill="none" stroke="#111" stroke-width="3.2"/>
<line x1="929.45" y1="350.4" x2="929.45" y2="377.7" stroke="#111" stroke-width="2.2" stroke-linecap="butt"/>
<line x1="948.55" y1="350.4" x2="948.55" y2="377.7" stroke="#111" stroke-width="2.2" stroke-linecap="butt"/>
<circle cx="939.00" cy="363.45" r="4.4" fill="#fff" stroke="#111" stroke-width="2.4"/>
<rect x="985.20" y="127.00" width="16.40" height="13.00" fill="#111"/>
<rect x="990.80" y="139.00" width="5.20" height="15.00" fill="#111"/>
<rect x="985.20" y="153.00" width="16.40" height="16.00" fill="#111"/>
<rect x="977.15" y="168.70" width="32.50" height="26.60" fill="#fff"/>
<rect x="978.65" y="170.20" width="5.20" height="23.60" fill="#8a8a8a"/>
<rect x="1002.95" y="170.20" width="5.20" height="23.60" fill="#8a8a8a"/>
<rect x="978.65" y="170.20" width="29.50" height="4.60" fill="#a0a0a0"/>
<rect x="977.15" y="168.70" width="32.50" height="26.60" fill="none" stroke="#111" stroke-width="3"/>
<line x1="984.55" y1="174.7" x2="984.55" y2="195.3" stroke="#111" stroke-width="1.8" stroke-linecap="butt"/>
<line x1="1002.25" y1="174.7" x2="1002.25" y2="195.3" stroke="#111" stroke-width="1.8" stroke-linecap="butt"/>
<line x1="977.15" y1="175.29999999999998" x2="1009.65" y2="175.29999999999998" stroke="#111" stroke-width="2.2" stroke-linecap="butt"/>
<circle cx="993.40" cy="182.80" r="4.2" fill="#fff" stroke="#111" stroke-width="2.4"/>
<rect x="985.20" y="326.30" width="16.40" height="13.00" fill="#111"/>
<rect x="990.80" y="339.00" width="5.20" height="18.00" fill="#111"/>
<rect x="985.20" y="356.20" width="16.40" height="15.00" fill="#111"/>
<rect x="977.15" y="370.50" width="32.50" height="27.30" fill="#fff"/>
<rect x="978.65" y="372.00" width="5.20" height="24.30" fill="#8a8a8a"/>
<rect x="1002.95" y="372.00" width="5.20" height="24.30" fill="#8a8a8a"/>
<rect x="978.65" y="372.00" width="29.50" height="4.60" fill="#a0a0a0"/>
<rect x="977.15" y="370.50" width="32.50" height="27.30" fill="none" stroke="#111" stroke-width="3"/>
<line x1="984.55" y1="376.5" x2="984.55" y2="397.8" stroke="#111" stroke-width="1.8" stroke-linecap="butt"/>
<line x1="1002.25" y1="376.5" x2="1002.25" y2="397.8" stroke="#111" stroke-width="1.8" stroke-linecap="butt"/>
<line x1="977.15" y1="377.1" x2="1009.65" y2="377.1" stroke="#111" stroke-width="2.2" stroke-linecap="butt"/>
<circle cx="993.40" cy="384.95" r="4.2" fill="#fff" stroke="#111" stroke-width="2.4"/>
<rect x="1095.00" y="102.60" width="185.30" height="247.80" fill="#fff" stroke="#111" stroke-width="4.2"/>
<line x1="1095.0" y1="325" x2="1280.3000000000002" y2="325" stroke="#111" stroke-width="3.8" stroke-linecap="butt"/>
<rect x="1135.90" y="122.50" width="103.40" height="31.20" fill="none" stroke="#111" stroke-width="4"/>
<line x1="1135.9" y1="131.8" x2="1239.3000000000002" y2="131.8" stroke="#111" stroke-width="4" stroke-linecap="butt"/>
<rect x="1230.80" y="168.70" width="30.00" height="8.60" fill="none" stroke="#111" stroke-width="3.6"/>
<path d="M1111.90,206.70 A18.20,20.50 0 0 1 1130.10,186.20 L1131.54,186.24 L1132.97,186.35 L1134.41,186.53 L1135.85,186.77 L1137.29,187.08 L1138.72,187.43 L1140.16,187.83 L1141.60,188.27 L1143.04,188.72 L1144.47,189.19 L1145.91,189.66 L1147.35,190.12 L1148.79,190.55 L1150.22,190.95 L1151.66,191.31 L1153.10,191.62 L1154.54,191.87 L1155.97,192.05 L1157.41,192.16 L1158.85,192.20 L1160.29,192.17 L1161.72,192.06 L1163.16,191.88 L1164.60,191.64 L1166.04,191.34 L1167.47,190.98 L1168.91,190.58 L1170.35,190.15 L1171.79,189.69 L1173.22,189.22 L1174.66,188.76 L1176.10,188.30 L1177.54,187.86 L1178.97,187.46 L1180.41,187.10 L1181.85,186.79 L1183.29,186.54 L1184.72,186.36 L1186.16,186.24 L1187.60,186.20 L1189.04,186.23 L1190.47,186.34 L1191.91,186.51 L1193.35,186.75 L1194.79,187.05 L1196.22,187.41 L1197.66,187.80 L1199.10,188.24 L1200.54,188.69 L1201.97,189.16 L1203.41,189.63 L1204.85,190.09 L1206.29,190.52 L1207.72,190.93 L1209.16,191.29 L1210.60,191.60 L1212.04,191.85 L1213.47,192.04 L1214.91,192.16 L1216.35,192.20 L1217.79,192.17 L1219.22,192.07 L1220.66,191.90 L1222.10,191.66 L1223.54,191.36 L1224.97,191.01 L1226.41,190.61 L1227.85,190.18 L1229.29,189.72 L1230.72,189.26 L1232.16,188.79 L1233.60,188.33 L1235.04,187.89 L1236.47,187.49 L1237.91,187.12 L1239.35,186.81 L1240.79,186.56 L1242.22,186.37 L1243.66,186.25 L1245.10,186.20 A17.60,20.50 0 0 1 1262.70,206.70 L1262.70,274.90 A17.60,20.50 0 0 1 1245.10,295.40 L1243.66,295.35 L1242.22,295.23 L1240.79,295.04 L1239.35,294.79 L1237.91,294.48 L1236.47,294.11 L1235.04,293.71 L1233.60,293.27 L1232.16,292.81 L1230.72,292.34 L1229.29,291.88 L1227.85,291.42 L1226.41,290.99 L1224.97,290.59 L1223.54,290.24 L1222.10,289.94 L1220.66,289.70 L1219.22,289.53 L1217.79,289.43 L1216.35,289.40 L1214.91,289.44 L1213.47,289.56 L1212.04,289.75 L1210.60,290.00 L1209.16,290.31 L1207.72,290.67 L1206.29,291.08 L1204.85,291.51 L1203.41,291.97 L1201.97,292.44 L1200.54,292.91 L1199.10,293.36 L1197.66,293.80 L1196.22,294.19 L1194.79,294.55 L1193.35,294.85 L1191.91,295.09 L1190.47,295.26 L1189.04,295.37 L1187.60,295.40 L1186.16,295.36 L1184.72,295.24 L1183.29,295.06 L1181.85,294.81 L1180.41,294.50 L1178.97,294.14 L1177.54,293.74 L1176.10,293.30 L1174.66,292.84 L1173.22,292.38 L1171.79,291.91 L1170.35,291.45 L1168.91,291.02 L1167.47,290.62 L1166.04,290.26 L1164.60,289.96 L1163.16,289.72 L1161.72,289.54 L1160.29,289.43 L1158.85,289.40 L1157.41,289.44 L1155.97,289.55 L1154.54,289.73 L1153.10,289.98 L1151.66,290.29 L1150.22,290.65 L1148.79,291.05 L1147.35,291.48 L1145.91,291.94 L1144.47,292.41 L1143.04,292.88 L1141.60,293.33 L1140.16,293.77 L1138.72,294.17 L1137.29,294.52 L1135.85,294.83 L1134.41,295.07 L1132.97,295.25 L1131.54,295.36 L1130.10,295.40 A18.20,20.50 0 0 1 1111.90,274.90 Z" fill="none" stroke="#111" stroke-width="2.9" stroke-linejoin="round"/>
<rect x="1116.80" y="214.20" width="26.60" height="67.30" fill="none" stroke="#111" stroke-width="4"/>
<circle cx="1130.10" cy="205.70" r="5.8" fill="#111"/>
<circle cx="1130.10" cy="275.20" r="5.8" fill="#111"/>
<rect x="1174.40" y="214.20" width="26.60" height="67.30" fill="none" stroke="#111" stroke-width="4"/>
<circle cx="1187.70" cy="205.70" r="5.8" fill="#111"/>
<circle cx="1187.70" cy="275.20" r="5.8" fill="#111"/>
<rect x="1231.80" y="214.20" width="26.60" height="67.30" fill="none" stroke="#111" stroke-width="4"/>
<circle cx="1245.10" cy="205.70" r="5.8" fill="#111"/>
<circle cx="1245.10" cy="275.20" r="5.8" fill="#111"/>
<rect x="1172.30" y="336.00" width="31.20" height="9.20" fill="none" stroke="#111" stroke-width="4"/>
<rect x="1114.35" y="350.40" width="31.50" height="27.30" fill="#777"/>
<rect x="1120.85" y="350.40" width="18.50" height="27.30" fill="#fff"/>
<rect x="1114.35" y="350.40" width="31.50" height="27.30" fill="none" stroke="#111" stroke-width="3.2"/>
<line x1="1120.55" y1="350.4" x2="1120.55" y2="377.7" stroke="#111" stroke-width="2.2" stroke-linecap="butt"/>
<line x1="1139.6499999999999" y1="350.4" x2="1139.6499999999999" y2="377.7" stroke="#111" stroke-width="2.2" stroke-linecap="butt"/>
<circle cx="1130.10" cy="363.45" r="4.4" fill="#fff" stroke="#111" stroke-width="2.4"/>
<rect x="1171.95" y="350.40" width="31.50" height="27.30" fill="#777"/>
<rect x="1178.45" y="350.40" width="18.50" height="27.30" fill="#fff"/>
<rect x="1171.95" y="350.40" width="31.50" height="27.30" fill="none" stroke="#111" stroke-width="3.2"/>
<line x1="1178.15" y1="350.4" x2="1178.15" y2="377.7" stroke="#111" stroke-width="2.2" stroke-linecap="butt"/>
<line x1="1197.25" y1="350.4" x2="1197.25" y2="377.7" stroke="#111" stroke-width="2.2" stroke-linecap="butt"/>
<circle cx="1187.70" cy="363.45" r="4.4" fill="#fff" stroke="#111" stroke-width="2.4"/>
<rect x="1229.35" y="350.40" width="31.50" height="27.30" fill="#777"/>
<rect x="1235.85" y="350.40" width="18.50" height="27.30" fill="#fff"/>
<rect x="1229.35" y="350.40" width="31.50" height="27.30" fill="none" stroke="#111" stroke-width="3.2"/>
<line x1="1235.55" y1="350.4" x2="1235.55" y2="377.7" stroke="#111" stroke-width="2.2" stroke-linecap="butt"/>
<line x1="1254.6499999999999" y1="350.4" x2="1254.6499999999999" y2="377.7" stroke="#111" stroke-width="2.2" stroke-linecap="butt"/>
<circle cx="1245.10" cy="363.45" r="4.4" fill="#fff" stroke="#111" stroke-width="2.4"/>
<rect x="1291.30" y="127.00" width="16.40" height="13.00" fill="#111"/>
<rect x="1296.90" y="139.00" width="5.20" height="15.00" fill="#111"/>
<rect x="1291.30" y="153.00" width="16.40" height="16.00" fill="#111"/>
<rect x="1283.25" y="168.70" width="32.50" height="26.60" fill="#fff"/>
<rect x="1284.75" y="170.20" width="5.20" height="23.60" fill="#8a8a8a"/>
<rect x="1309.05" y="170.20" width="5.20" height="23.60" fill="#8a8a8a"/>
<rect x="1284.75" y="170.20" width="29.50" height="4.60" fill="#a0a0a0"/>
<rect x="1283.25" y="168.70" width="32.50" height="26.60" fill="none" stroke="#111" stroke-width="3"/>
<line x1="1290.65" y1="174.7" x2="1290.65" y2="195.3" stroke="#111" stroke-width="1.8" stroke-linecap="butt"/>
<line x1="1308.35" y1="174.7" x2="1308.35" y2="195.3" stroke="#111" stroke-width="1.8" stroke-linecap="butt"/>
<line x1="1283.25" y1="175.29999999999998" x2="1315.75" y2="175.29999999999998" stroke="#111" stroke-width="2.2" stroke-linecap="butt"/>
<circle cx="1299.50" cy="182.80" r="4.2" fill="#fff" stroke="#111" stroke-width="2.4"/>
<rect x="1291.30" y="326.30" width="16.40" height="13.00" fill="#111"/>
<rect x="1296.90" y="339.00" width="5.20" height="18.00" fill="#111"/>
<rect x="1291.30" y="356.20" width="16.40" height="15.00" fill="#111"/>
<rect x="1283.25" y="370.50" width="32.50" height="27.30" fill="#fff"/>
<rect x="1284.75" y="372.00" width="5.20" height="24.30" fill="#8a8a8a"/>
<rect x="1309.05" y="372.00" width="5.20" height="24.30" fill="#8a8a8a"/>
<rect x="1284.75" y="372.00" width="29.50" height="4.60" fill="#a0a0a0"/>
<rect x="1283.25" y="370.50" width="32.50" height="27.30" fill="none" stroke="#111" stroke-width="3"/>
<line x1="1290.65" y1="376.5" x2="1290.65" y2="397.8" stroke="#111" stroke-width="1.8" stroke-linecap="butt"/>
<line x1="1308.35" y1="376.5" x2="1308.35" y2="397.8" stroke="#111" stroke-width="1.8" stroke-linecap="butt"/>
<line x1="1283.25" y1="377.1" x2="1315.75" y2="377.1" stroke="#111" stroke-width="2.2" stroke-linecap="butt"/>
<circle cx="1299.50" cy="384.95" r="4.2" fill="#fff" stroke="#111" stroke-width="2.4"/>
<rect x="1400.30" y="102.60" width="185.30" height="247.80" fill="#fff" stroke="#111" stroke-width="4.2"/>
<line x1="1400.3" y1="325" x2="1585.6" y2="325" stroke="#111" stroke-width="3.8" stroke-linecap="butt"/>
<rect x="1441.20" y="122.50" width="103.40" height="31.20" fill="none" stroke="#111" stroke-width="4"/>
<line x1="1441.1999999999998" y1="131.8" x2="1544.6" y2="131.8" stroke="#111" stroke-width="4" stroke-linecap="butt"/>
<rect x="1536.10" y="168.70" width="30.00" height="8.60" fill="none" stroke="#111" stroke-width="3.6"/>
<path d="M1417.20,206.70 A18.20,20.50 0 0 1 1435.40,186.20 L1436.84,186.24 L1438.28,186.35 L1439.71,186.53 L1441.15,186.77 L1442.59,187.08 L1444.03,187.43 L1445.46,187.83 L1446.90,188.27 L1448.34,188.72 L1449.78,189.19 L1451.21,189.66 L1452.65,190.12 L1454.09,190.55 L1455.53,190.95 L1456.96,191.31 L1458.40,191.62 L1459.84,191.87 L1461.28,192.05 L1462.71,192.16 L1464.15,192.20 L1465.59,192.17 L1467.03,192.06 L1468.46,191.88 L1469.90,191.64 L1471.34,191.34 L1472.78,190.98 L1474.21,190.58 L1475.65,190.15 L1477.09,189.69 L1478.53,189.22 L1479.96,188.76 L1481.40,188.30 L1482.84,187.86 L1484.28,187.46 L1485.71,187.10 L1487.15,186.79 L1488.59,186.54 L1490.03,186.36 L1491.46,186.24 L1492.90,186.20 L1494.34,186.23 L1495.78,186.34 L1497.21,186.51 L1498.65,186.75 L1500.09,187.05 L1501.53,187.41 L1502.96,187.80 L1504.40,188.24 L1505.84,188.69 L1507.28,189.16 L1508.71,189.63 L1510.15,190.09 L1511.59,190.52 L1513.03,190.93 L1514.46,191.29 L1515.90,191.60 L1517.34,191.85 L1518.78,192.04 L1520.21,192.16 L1521.65,192.20 L1523.09,192.17 L1524.53,192.07 L1525.96,191.90 L1527.40,191.66 L1528.84,191.36 L1530.28,191.01 L1531.71,190.61 L1533.15,190.18 L1534.59,189.72 L1536.03,189.26 L1537.46,188.79 L1538.90,188.33 L1540.34,187.89 L1541.78,187.49 L1543.21,187.12 L1544.65,186.81 L1546.09,186.56 L1547.53,186.37 L1548.96,186.25 L1550.40,186.20 A17.60,20.50 0 0 1 1568.00,206.70 L1568.00,274.90 A17.60,20.50 0 0 1 1550.40,295.40 L1548.96,295.35 L1547.53,295.23 L1546.09,295.04 L1544.65,294.79 L1543.21,294.48 L1541.78,294.11 L1540.34,293.71 L1538.90,293.27 L1537.46,292.81 L1536.03,292.34 L1534.59,291.88 L1533.15,291.42 L1531.71,290.99 L1530.28,290.59 L1528.84,290.24 L1527.40,289.94 L1525.96,289.70 L1524.53,289.53 L1523.09,289.43 L1521.65,289.40 L1520.21,289.44 L1518.78,289.56 L1517.34,289.75 L1515.90,290.00 L1514.46,290.31 L1513.03,290.67 L1511.59,291.08 L1510.15,291.51 L1508.71,291.97 L1507.28,292.44 L1505.84,292.91 L1504.40,293.36 L1502.96,293.80 L1501.53,294.19 L1500.09,294.55 L1498.65,294.85 L1497.21,295.09 L1495.78,295.26 L1494.34,295.37 L1492.90,295.40 L1491.46,295.36 L1490.03,295.24 L1488.59,295.06 L1487.15,294.81 L1485.71,294.50 L1484.28,294.14 L1482.84,293.74 L1481.40,293.30 L1479.96,292.84 L1478.53,292.38 L1477.09,291.91 L1475.65,291.45 L1474.21,291.02 L1472.78,290.62 L1471.34,290.26 L1469.90,289.96 L1468.46,289.72 L1467.03,289.54 L1465.59,289.43 L1464.15,289.40 L1462.71,289.44 L1461.28,289.55 L1459.84,289.73 L1458.40,289.98 L1456.96,290.29 L1455.53,290.65 L1454.09,291.05 L1452.65,291.48 L1451.21,291.94 L1449.78,292.41 L1448.34,292.88 L1446.90,293.33 L1445.46,293.77 L1444.03,294.17 L1442.59,294.52 L1441.15,294.83 L1439.71,295.07 L1438.28,295.25 L1436.84,295.36 L1435.40,295.40 A18.20,20.50 0 0 1 1417.20,274.90 Z" fill="none" stroke="#111" stroke-width="2.9" stroke-linejoin="round"/>
<rect x="1422.10" y="214.20" width="26.60" height="67.30" fill="none" stroke="#111" stroke-width="4"/>
<circle cx="1435.40" cy="205.70" r="5.8" fill="#111"/>
<circle cx="1435.40" cy="275.20" r="5.8" fill="#111"/>
<rect x="1479.70" y="214.20" width="26.60" height="67.30" fill="none" stroke="#111" stroke-width="4"/>
<circle cx="1493.00" cy="205.70" r="5.8" fill="#111"/>
<circle cx="1493.00" cy="275.20" r="5.8" fill="#111"/>
<rect x="1537.10" y="214.20" width="26.60" height="67.30" fill="none" stroke="#111" stroke-width="4"/>
<circle cx="1550.40" cy="205.70" r="5.8" fill="#111"/>
<circle cx="1550.40" cy="275.20" r="5.8" fill="#111"/>
<rect x="1477.60" y="336.00" width="31.20" height="9.20" fill="none" stroke="#111" stroke-width="4"/>
<rect x="1419.65" y="350.40" width="31.50" height="27.30" fill="#777"/>
<rect x="1426.15" y="350.40" width="18.50" height="27.30" fill="#fff"/>
<rect x="1419.65" y="350.40" width="31.50" height="27.30" fill="none" stroke="#111" stroke-width="3.2"/>
<line x1="1425.8500000000001" y1="350.4" x2="1425.8500000000001" y2="377.7" stroke="#111" stroke-width="2.2" stroke-linecap="butt"/>
<line x1="1444.95" y1="350.4" x2="1444.95" y2="377.7" stroke="#111" stroke-width="2.2" stroke-linecap="butt"/>
<circle cx="1435.40" cy="363.45" r="4.4" fill="#fff" stroke="#111" stroke-width="2.4"/>
<rect x="1477.25" y="350.40" width="31.50" height="27.30" fill="#777"/>
<rect x="1483.75" y="350.40" width="18.50" height="27.30" fill="#fff"/>
<rect x="1477.25" y="350.40" width="31.50" height="27.30" fill="none" stroke="#111" stroke-width="3.2"/>
<line x1="1483.45" y1="350.4" x2="1483.45" y2="377.7" stroke="#111" stroke-width="2.2" stroke-linecap="butt"/>
<line x1="1502.55" y1="350.4" x2="1502.55" y2="377.7" stroke="#111" stroke-width="2.2" stroke-linecap="butt"/>
<circle cx="1493.00" cy="363.45" r="4.4" fill="#fff" stroke="#111" stroke-width="2.4"/>
<rect x="1534.65" y="350.40" width="31.50" height="27.30" fill="#777"/>
<rect x="1541.15" y="350.40" width="18.50" height="27.30" fill="#fff"/>
<rect x="1534.65" y="350.40" width="31.50" height="27.30" fill="none" stroke="#111" stroke-width="3.2"/>
<line x1="1540.8500000000001" y1="350.4" x2="1540.8500000000001" y2="377.7" stroke="#111" stroke-width="2.2" stroke-linecap="butt"/>
<line x1="1559.95" y1="350.4" x2="1559.95" y2="377.7" stroke="#111" stroke-width="2.2" stroke-linecap="butt"/>
<circle cx="1550.40" cy="363.45" r="4.4" fill="#fff" stroke="#111" stroke-width="2.4"/>
<rect x="1596.60" y="127.00" width="16.40" height="13.00" fill="#111"/>
<rect x="1602.20" y="139.00" width="5.20" height="15.00" fill="#111"/>
<rect x="1596.60" y="153.00" width="16.40" height="16.00" fill="#111"/>
<rect x="1588.55" y="168.70" width="32.50" height="26.60" fill="#fff"/>
<rect x="1590.05" y="170.20" width="5.20" height="23.60" fill="#8a8a8a"/>
<rect x="1614.35" y="170.20" width="5.20" height="23.60" fill="#8a8a8a"/>
<rect x="1590.05" y="170.20" width="29.50" height="4.60" fill="#a0a0a0"/>
<rect x="1588.55" y="168.70" width="32.50" height="26.60" fill="none" stroke="#111" stroke-width="3"/>
<line x1="1595.95" y1="174.7" x2="1595.95" y2="195.3" stroke="#111" stroke-width="1.8" stroke-linecap="butt"/>
<line x1="1613.6499999999999" y1="174.7" x2="1613.6499999999999" y2="195.3" stroke="#111" stroke-width="1.8" stroke-linecap="butt"/>
<line x1="1588.55" y1="175.29999999999998" x2="1621.05" y2="175.29999999999998" stroke="#111" stroke-width="2.2" stroke-linecap="butt"/>
<circle cx="1604.80" cy="182.80" r="4.2" fill="#fff" stroke="#111" stroke-width="2.4"/>
<rect x="1596.60" y="326.30" width="16.40" height="13.00" fill="#111"/>
<rect x="1602.20" y="339.00" width="5.20" height="18.00" fill="#111"/>
<rect x="1596.60" y="356.20" width="16.40" height="15.00" fill="#111"/>
<rect x="1588.55" y="370.50" width="32.50" height="27.30" fill="#fff"/>
<rect x="1590.05" y="372.00" width="5.20" height="24.30" fill="#8a8a8a"/>
<rect x="1614.35" y="372.00" width="5.20" height="24.30" fill="#8a8a8a"/>
<rect x="1590.05" y="372.00" width="29.50" height="4.60" fill="#a0a0a0"/>
<rect x="1588.55" y="370.50" width="32.50" height="27.30" fill="none" stroke="#111" stroke-width="3"/>
<line x1="1595.95" y1="376.5" x2="1595.95" y2="397.8" stroke="#111" stroke-width="1.8" stroke-linecap="butt"/>
<line x1="1613.6499999999999" y1="376.5" x2="1613.6499999999999" y2="397.8" stroke="#111" stroke-width="1.8" stroke-linecap="butt"/>
<line x1="1588.55" y1="377.1" x2="1621.05" y2="377.1" stroke="#111" stroke-width="2.2" stroke-linecap="butt"/>
<circle cx="1604.80" cy="384.95" r="4.2" fill="#fff" stroke="#111" stroke-width="2.4"/>
<rect x="166.20" y="538.80" width="256.40" height="304.40" fill="#fff" stroke="#111" stroke-width="4.6"/>
<line x1="164.4" y1="570" x2="164.4" y2="802" stroke="#111" stroke-width="4.6" stroke-linecap="butt"/>
<line x1="424.4" y1="570" x2="424.4" y2="802" stroke="#111" stroke-width="4.6" stroke-linecap="butt"/>
<line x1="163" y1="801.0" x2="425.8" y2="801.0" stroke="#111" stroke-width="4.6" stroke-linecap="butt"/>
<rect x="232.80" y="560.80" width="122.80" height="39.60" fill="none" stroke="#111" stroke-width="4"/>
<line x1="232.8" y1="570.6" x2="355.6" y2="570.6" stroke="#111" stroke-width="4" stroke-linecap="butt"/>
<rect x="348.80" y="612.80" width="30.80" height="10.40" fill="none" stroke="#111" stroke-width="3.6"/>
<path d="M188.50,665.90 A20.70,20.00 0 0 1 209.20,645.90 L211.26,645.95 L213.33,646.12 L215.39,646.38 L217.46,646.74 L219.52,647.19 L221.59,647.71 L223.65,648.30 L225.72,648.94 L227.78,649.61 L229.85,650.30 L231.91,650.99 L233.98,651.66 L236.04,652.30 L238.11,652.89 L240.17,653.41 L242.24,653.86 L244.30,654.22 L246.37,654.48 L248.44,654.65 L250.50,654.70 L252.56,654.65 L254.63,654.48 L256.69,654.22 L258.76,653.86 L260.82,653.41 L262.89,652.89 L264.95,652.30 L267.02,651.66 L269.08,650.99 L271.15,650.30 L273.21,649.61 L275.28,648.94 L277.34,648.30 L279.41,647.71 L281.48,647.19 L283.54,646.74 L285.61,646.38 L287.67,646.12 L289.74,645.95 L291.80,645.90 L293.87,645.95 L295.93,646.12 L298.00,646.38 L300.06,646.74 L302.12,647.19 L304.19,647.71 L306.25,648.30 L308.32,648.94 L310.38,649.61 L312.45,650.30 L314.51,650.99 L316.58,651.66 L318.64,652.30 L320.71,652.89 L322.77,653.41 L324.84,653.86 L326.90,654.22 L328.97,654.48 L331.03,654.65 L333.10,654.70 L335.16,654.65 L337.23,654.48 L339.29,654.22 L341.36,653.86 L343.42,653.41 L345.49,652.89 L347.55,652.30 L349.62,651.66 L351.68,650.99 L353.75,650.30 L355.81,649.61 L357.88,648.94 L359.94,648.30 L362.01,647.71 L364.07,647.19 L366.14,646.74 L368.20,646.38 L370.27,646.12 L372.33,645.95 L374.40,645.90 A21.20,20.00 0 0 1 395.60,665.90 L395.60,740.00 A21.20,20.00 0 0 1 374.40,760.00 L372.33,759.95 L370.27,759.78 L368.20,759.52 L366.14,759.16 L364.07,758.71 L362.01,758.19 L359.94,757.60 L357.88,756.96 L355.81,756.29 L353.75,755.60 L351.69,754.91 L349.62,754.24 L347.55,753.60 L345.49,753.01 L343.42,752.49 L341.36,752.04 L339.29,751.68 L337.23,751.42 L335.16,751.25 L333.10,751.20 L331.03,751.25 L328.97,751.42 L326.90,751.68 L324.84,752.04 L322.77,752.49 L320.71,753.01 L318.64,753.60 L316.58,754.24 L314.51,754.91 L312.45,755.60 L310.38,756.29 L308.32,756.96 L306.25,757.60 L304.19,758.19 L302.12,758.71 L300.06,759.16 L298.00,759.52 L295.93,759.78 L293.87,759.95 L291.80,760.00 L289.74,759.95 L287.67,759.78 L285.61,759.52 L283.54,759.16 L281.48,758.71 L279.41,758.19 L277.34,757.60 L275.28,756.96 L273.21,756.29 L271.15,755.60 L269.08,754.91 L267.02,754.24 L264.95,753.60 L262.89,753.01 L260.82,752.49 L258.76,752.04 L256.69,751.68 L254.63,751.42 L252.56,751.25 L250.50,751.20 L248.44,751.25 L246.37,751.42 L244.31,751.68 L242.24,752.04 L240.17,752.49 L238.11,753.01 L236.04,753.60 L233.98,754.24 L231.91,754.91 L229.85,755.60 L227.78,756.29 L225.72,756.96 L223.66,757.60 L221.59,758.19 L219.52,758.71 L217.46,759.16 L215.39,759.52 L213.33,759.78 L211.26,759.95 L209.20,760.00 A20.70,20.00 0 0 1 188.50,740.00 Z" fill="none" stroke="#111" stroke-width="3.0" stroke-linejoin="round"/>
<rect x="196.60" y="675.00" width="25.60" height="68.40" fill="none" stroke="#111" stroke-width="4"/>
<rect x="362.20" y="675.00" width="24.40" height="68.40" fill="none" stroke="#111" stroke-width="4"/>
<path d="M278.8,689.5 L278.8,675 L304.6,675 L304.6,689.5" fill="none" stroke="#111" stroke-width="3.2" stroke-linejoin="miter"/>
<path d="M278.8,723.5 L278.8,743.4 L304.6,743.4 L304.6,723.5" fill="none" stroke="#111" stroke-width="3.2" stroke-linejoin="miter"/>
<circle cx="209.20" cy="667.40" r="5.6" fill="#111"/>
<circle cx="209.20" cy="736.40" r="5.6" fill="#111"/>
<circle cx="291.80" cy="667.40" r="5.6" fill="#111"/>
<circle cx="291.80" cy="736.40" r="5.6" fill="#111"/>
<circle cx="374.40" cy="667.40" r="5.6" fill="#111"/>
<circle cx="374.40" cy="736.40" r="5.6" fill="#111"/>
<rect x="204.20" y="845.00" width="32.00" height="23.40" fill="#777"/>
<rect x="210.70" y="845.00" width="19.00" height="23.40" fill="#fff"/>
<rect x="204.20" y="845.00" width="32.00" height="23.40" fill="none" stroke="#111" stroke-width="3.2"/>
<line x1="210.39999999999998" y1="845" x2="210.39999999999998" y2="868.4" stroke="#111" stroke-width="2.2" stroke-linecap="butt"/>
<line x1="230.0" y1="845" x2="230.0" y2="868.4" stroke="#111" stroke-width="2.2" stroke-linecap="butt"/>
<circle cx="220.20" cy="856.10" r="4.4" fill="#fff" stroke="#111" stroke-width="2.4"/>
<rect x="280.80" y="845.00" width="32.00" height="23.40" fill="#777"/>
<rect x="287.30" y="845.00" width="19.00" height="23.40" fill="#fff"/>
<rect x="280.80" y="845.00" width="32.00" height="23.40" fill="none" stroke="#111" stroke-width="3.2"/>
<line x1="287.0" y1="845" x2="287.0" y2="868.4" stroke="#111" stroke-width="2.2" stroke-linecap="butt"/>
<line x1="306.6" y1="845" x2="306.6" y2="868.4" stroke="#111" stroke-width="2.2" stroke-linecap="butt"/>
<circle cx="296.80" cy="856.10" r="4.4" fill="#fff" stroke="#111" stroke-width="2.4"/>
<rect x="357.20" y="845.00" width="32.00" height="23.40" fill="#777"/>
<rect x="363.70" y="845.00" width="19.00" height="23.40" fill="#fff"/>
<rect x="357.20" y="845.00" width="32.00" height="23.40" fill="none" stroke="#111" stroke-width="3.2"/>
<line x1="363.4" y1="845" x2="363.4" y2="868.4" stroke="#111" stroke-width="2.2" stroke-linecap="butt"/>
<line x1="383.0" y1="845" x2="383.0" y2="868.4" stroke="#111" stroke-width="2.2" stroke-linecap="butt"/>
<circle cx="373.20" cy="856.10" r="4.4" fill="#fff" stroke="#111" stroke-width="2.4"/>
<path d="M469.2,586.2 L724.6,586.2 L724.6,615.2 L711.2,615.2 L711.2,760.6 L724.6,760.6 L724.6,789.6 L469.2,789.6 L469.2,760.6 L482.59999999999997,760.6 L482.59999999999997,615.2 L469.2,615.2 Z" fill="#fff" stroke="#111" stroke-width="4" stroke-linejoin="miter"/>
<rect x="467.20" y="584.20" width="8.60" height="33.00" fill="#111"/>
<rect x="473.80" y="589.80" width="5.8" height="9.4" rx="2.8" fill="#111"/>
<rect x="473.80" y="602.60" width="5.8" height="9.4" rx="2.8" fill="#111"/>
<rect x="467.20" y="758.60" width="8.60" height="33.00" fill="#111"/>
<rect x="473.80" y="764.20" width="5.8" height="9.4" rx="2.8" fill="#111"/>
<rect x="473.80" y="777.00" width="5.8" height="9.4" rx="2.8" fill="#111"/>
<rect x="718.00" y="584.20" width="8.60" height="33.00" fill="#111"/>
<rect x="714.20" y="589.80" width="5.8" height="9.4" rx="2.8" fill="#111"/>
<rect x="714.20" y="602.60" width="5.8" height="9.4" rx="2.8" fill="#111"/>
<rect x="718.00" y="758.60" width="8.60" height="33.00" fill="#111"/>
<rect x="714.20" y="764.20" width="5.8" height="9.4" rx="2.8" fill="#111"/>
<rect x="714.20" y="777.00" width="5.8" height="9.4" rx="2.8" fill="#111"/>
<rect x="526.80" y="615.80" width="137.60" height="144.80" fill="#fff" stroke="#111" stroke-width="4"/>
<line x1="537.8" y1="615.8" x2="537.8" y2="760.6" stroke="#111" stroke-width="3" stroke-linecap="butt"/>
<line x1="654.2" y1="615.8" x2="654.2" y2="760.6" stroke="#111" stroke-width="3" stroke-linecap="butt"/>
<line x1="588.8" y1="615.8" x2="588.8" y2="640" stroke="#111" stroke-width="2.6" stroke-linecap="butt"/>
<line x1="603.2" y1="615.8" x2="603.2" y2="640" stroke="#111" stroke-width="2.6" stroke-linecap="butt"/>
<path d="M544,736 L544,756 L552,767 L638,767 L646.4,756 L646.4,736" fill="#fff" stroke="#111" stroke-width="3.6" stroke-linejoin="round"/>
<rect x="537.80" y="634.60" width="54.80" height="49.80" fill="#111"/>
<rect x="547.30" y="640.20" width="34.30" height="4.20" fill="#fff"/>
<rect x="547.30" y="649.60" width="34.30" height="15.20" fill="#fff"/>
<rect x="547.30" y="670.20" width="34.30" height="4.40" fill="#fff"/>
<circle cx="563.8" cy="657.2" r="7.2" fill="#fff" stroke="#111" stroke-width="3"/>
<rect x="599.20" y="634.60" width="55.00" height="49.80" fill="#111"/>
<rect x="610.20" y="640.20" width="34.50" height="4.20" fill="#fff"/>
<rect x="610.20" y="649.60" width="34.50" height="15.20" fill="#fff"/>
<rect x="610.20" y="670.20" width="34.50" height="4.40" fill="#fff"/>
<circle cx="627.2" cy="657.2" r="7.2" fill="#fff" stroke="#111" stroke-width="3"/>
<rect x="537.80" y="691.20" width="54.80" height="47.40" fill="#111"/>
<rect x="547.30" y="696.80" width="34.30" height="4.20" fill="#fff"/>
<rect x="547.30" y="710.60" width="34.30" height="15.20" fill="#fff"/>
<rect x="547.30" y="724.40" width="34.30" height="4.40" fill="#fff"/>
<circle cx="563.8" cy="718.2" r="7.2" fill="#fff" stroke="#111" stroke-width="3"/>
<rect x="599.20" y="691.20" width="55.00" height="47.40" fill="#111"/>
<rect x="610.20" y="696.80" width="34.50" height="4.20" fill="#fff"/>
<rect x="610.20" y="710.60" width="34.50" height="15.20" fill="#fff"/>
<rect x="610.20" y="724.40" width="34.50" height="4.40" fill="#fff"/>
<circle cx="627.2" cy="718.2" r="7.2" fill="#fff" stroke="#111" stroke-width="3"/>
<path d="M582,691 L582,738 Q582,748 592,748 L600,748 Q610,748 610,738 L610,691 Z" fill="#111"/>
<rect x="592.80" y="615.80" width="6.40" height="126.00" fill="#fff"/>
<line x1="526.8" y1="687.6" x2="664.4" y2="687.6" stroke="#fff" stroke-width="6.4" stroke-linecap="butt"/>
<rect x="526.80" y="615.80" width="137.60" height="144.80" fill="none" stroke="#111" stroke-width="4"/>
<circle cx="150" cy="92" r="12.0" fill="#fff" stroke="#111" stroke-width="4.9"/>
<circle cx="734.2" cy="92" r="12.0" fill="#fff" stroke="#111" stroke-width="4.9"/>
<circle cx="150" cy="370.2" r="12.0" fill="#fff" stroke="#111" stroke-width="4.9"/>
<circle cx="735" cy="370.5" r="12.0" fill="#fff" stroke="#111" stroke-width="4.9"/>
<circle cx="151" cy="399" r="12.0" fill="#fff" stroke="#111" stroke-width="4.9"/>
<circle cx="443.6" cy="398.5" r="12.0" fill="#fff" stroke="#111" stroke-width="4.9"/>
<circle cx="735.6" cy="399" r="12.0" fill="#fff" stroke="#111" stroke-width="4.9"/>
<circle cx="151" cy="689.8" r="12.0" fill="#fff" stroke="#111" stroke-width="4.9"/>
<circle cx="734.4" cy="690.4" r="12.0" fill="#fff" stroke="#111" stroke-width="4.9"/>
<circle cx="152" cy="981.5" r="12.0" fill="#fff" stroke="#111" stroke-width="4.9"/>
<circle cx="443.6" cy="981.5" r="12.0" fill="#fff" stroke="#111" stroke-width="4.9"/>
<circle cx="735.2" cy="981.5" r="12.0" fill="#fff" stroke="#111" stroke-width="4.9"/>
<circle cx="150.5" cy="1009.5" r="12.0" fill="#fff" stroke="#111" stroke-width="4.9"/>
<circle cx="735" cy="1009.5" r="12.0" fill="#fff" stroke="#111" stroke-width="4.9"/>
<circle cx="150.5" cy="1288.5" r="12.0" fill="#fff" stroke="#111" stroke-width="4.9"/>
<circle cx="734.6" cy="1288.5" r="12.0" fill="#fff" stroke="#111" stroke-width="4.9"/>
<circle cx="761.4" cy="92.6" r="12.0" fill="#fff" stroke="#111" stroke-width="4.9"/>
<circle cx="1053" cy="92.6" r="12.0" fill="#fff" stroke="#111" stroke-width="4.9"/>
<circle cx="1345" cy="92.2" r="12.0" fill="#fff" stroke="#111" stroke-width="4.9"/>
<circle cx="1372.4" cy="92.2" r="12.0" fill="#fff" stroke="#111" stroke-width="4.9"/>
<circle cx="1650.6" cy="92.6" r="12.0" fill="#fff" stroke="#111" stroke-width="4.9"/>
<circle cx="763.6" cy="677.5" r="12.0" fill="#fff" stroke="#111" stroke-width="4.9"/>
<circle cx="1052.9" cy="677.5" r="12.0" fill="#fff" stroke="#111" stroke-width="4.9"/>
<circle cx="1344.4" cy="677.3" r="12.0" fill="#fff" stroke="#111" stroke-width="4.9"/>
<circle cx="1374.1" cy="677.3" r="12.0" fill="#fff" stroke="#111" stroke-width="4.9"/>
<circle cx="1649.8" cy="677.3" r="12.0" fill="#fff" stroke="#111" stroke-width="4.9"/>
<text x="531.4" y="569.0" font-size="37" fill="#3a3a3a" text-anchor="start" textLength="27.2" lengthAdjust="spacingAndGlyphs" stroke="#fff" stroke-width="0.9">N</text>
<text x="635.6" y="569.0" font-size="37" fill="#2a2a2a" text-anchor="start" textLength="36.2" lengthAdjust="spacingAndGlyphs" stroke="#fff" stroke-width="0.9">PE</text>
<text x="1626.6" y="127.3" font-size="37" fill="#4a4a4a" text-anchor="start" textLength="27.2" lengthAdjust="spacingAndGlyphs" stroke="#fff" stroke-width="0.9">N</text>
<text x="1626.2" y="371.4" font-size="37" fill="#4a4a4a" text-anchor="start" textLength="28.4" lengthAdjust="spacingAndGlyphs" stroke="#fff" stroke-width="0.9">PE</text>
<line x1="1749.2" y1="78.8" x2="1779.4" y2="78.8" stroke="#111" stroke-width="5.6" stroke-linecap="butt"/>
<line x1="1784" y1="78.8" x2="1995.4" y2="78.8" stroke="#111" stroke-width="5.6" stroke-linecap="butt"/>
<line x1="1752" y1="77" x2="1752" y2="1302.6" stroke="#111" stroke-width="5.6" stroke-linecap="butt"/>
<line x1="1776.8" y1="77" x2="1776.8" y2="1302.6" stroke="#111" stroke-width="4.6" stroke-linecap="butt"/>
<line x1="1786.4" y1="77" x2="1786.4" y2="1302" stroke="#111" stroke-width="4.8" stroke-linecap="butt"/>
<line x1="1904" y1="77" x2="1904" y2="1302" stroke="#111" stroke-width="5.8" stroke-linecap="butt"/>
<line x1="1992.6" y1="77" x2="1992.6" y2="1302.6" stroke="#111" stroke-width="5.2" stroke-linecap="butt"/>
<rect x="1776.00" y="108.00" width="13.60" height="30.00" fill="#111"/>
<rect x="1776.00" y="1247.50" width="13.60" height="30.00" fill="#111"/>
<path d="M1786.4,1298 L1786.4,1310 Q1786.4,1319 1796,1319 L1894,1319 Q1904,1319 1904,1310 L1904,1298" fill="#fff" stroke="#111" stroke-width="4.8" stroke-linejoin="round"/>
<polygon points="1789.50,1317.20 1904.10,1317.20 1904.10,1324.20 1897.10,1332.00 1897.10,1345.20 1796.50,1345.20 1796.50,1332.00 1789.50,1324.20" fill="#111"/>
<polygon points="1800.00,1325.40 1893.60,1325.40 1892.20,1329.50 1801.40,1329.50" fill="#fff"/>
<rect x="1802.60" y="1336.10" width="88.40" height="4.30" fill="#fff"/>
<rect x="1801.00" y="1340.40" width="91.60" height="17.40" rx="4" fill="#111"/>
<rect x="1803.00" y="1358.80" width="87.60" height="10.00" rx="4" fill="#111"/>
<rect x="1807.00" y="1369.60" width="79.60" height="9.80" rx="4" fill="#111"/>
<rect x="1809.80" y="1380.30" width="74.00" height="10.00" rx="4" fill="#111"/>
<rect x="1813.80" y="1391.10" width="66.00" height="10.10" rx="4" fill="#111"/>
<rect x="1817.20" y="1402.20" width="59.20" height="13.20" rx="6.5" fill="#111"/>
<polygon points="1803.80,1345.20 1889.80,1345.20 1873.30,1409.20 1820.30,1409.20" fill="#111"/>
<rect x="1809.20" y="1344.80" width="75.20" height="4.10" fill="#4d4d4d"/>
<rect x="1812.80" y="1357.55" width="68.00" height="2.30" fill="#6a6a6a"/>
<rect x="1815.60" y="1368.20" width="62.40" height="2.40" fill="#8a8a8a"/>
<rect x="1818.80" y="1378.90" width="56.00" height="2.40" fill="#a0a0a0"/>
<rect x="1821.80" y="1389.60" width="50.00" height="2.40" fill="#fff"/>
<rect x="1825.80" y="1400.75" width="42.00" height="2.30" fill="#fff"/>
<line x1="1749.2" y1="1300" x2="1779" y2="1300" stroke="#111" stroke-width="5.4" stroke-linecap="butt"/>
<line x1="1784" y1="1300" x2="1995.2" y2="1300" stroke="#111" stroke-width="5.4" stroke-linecap="butt"/>
<line x1="97.2" y1="0" x2="97.2" y2="60" stroke="#111" stroke-width="3.4" stroke-linecap="butt"/>
<line x1="1707.2" y1="0" x2="1707.2" y2="60" stroke="#111" stroke-width="3.4" stroke-linecap="butt"/>
<line x1="104" y1="31" x2="833.8" y2="31" stroke="#111" stroke-width="3.2" stroke-linecap="butt"/>
<line x1="957" y1="31" x2="1700" y2="31" stroke="#111" stroke-width="3.2" stroke-linecap="butt"/>
<polygon points="100.4,31 117.4,21.5 117.4,40.5" fill="#111"/>
<polygon points="1704,31 1687.0,40.5 1687.0,21.5" fill="#111"/>
<text x="832.3" y="50.5" font-size="57" fill="#222" text-anchor="start" textLength="121.4" lengthAdjust="spacingAndGlyphs" stroke="#fff" stroke-width="1.0">1586</text>
<line x1="1752" y1="0" x2="1752" y2="60" stroke="#111" stroke-width="3.4" stroke-linecap="butt"/>
<line x1="1998.8" y1="0" x2="1998.8" y2="60" stroke="#111" stroke-width="3.4" stroke-linecap="butt"/>
<line x1="1760" y1="27.4" x2="1827.4" y2="27.4" stroke="#111" stroke-width="3.2" stroke-linecap="butt"/>
<line x1="1931.6" y1="27.4" x2="1990" y2="27.4" stroke="#111" stroke-width="3.2" stroke-linecap="butt"/>
<polygon points="1755.8,27.4 1772.8,17.9 1772.8,36.9" fill="#111"/>
<polygon points="1995.6,27.4 1978.6,36.9 1978.6,17.9" fill="#111"/>
<text x="1835.6" y="47.0" font-size="57" fill="#222" text-anchor="start" textLength="88.8" lengthAdjust="spacingAndGlyphs" stroke="#fff" stroke-width="1.0">232</text>
<line x1="0" y1="80" x2="58" y2="80" stroke="#111" stroke-width="3.4" stroke-linecap="butt"/>
<line x1="0" y1="1411.6" x2="58" y2="1411.6" stroke="#111" stroke-width="3.4" stroke-linecap="butt"/>
<line x1="29" y1="90" x2="29" y2="659" stroke="#111" stroke-width="3.2" stroke-linecap="butt"/>
<line x1="29" y1="806" x2="29" y2="1402" stroke="#111" stroke-width="3.2" stroke-linecap="butt"/>
<polygon points="29,83.6 38.5,100.6 19.5,100.6" fill="#111"/>
<polygon points="29,1408 19.5,1391.0 38.5,1391.0" fill="#111"/>
<text x="48.6" y="791" font-size="57" fill="#222" text-anchor="start" textLength="120.4" lengthAdjust="spacingAndGlyphs" transform="rotate(-90 48.6 791)" stroke="#fff" stroke-width="1.0">1310</text>
<line x1="1750.2" y1="1306" x2="1750.2" y2="1365" stroke="#111" stroke-width="3.2" stroke-linecap="butt"/>
<line x1="1777.8" y1="1306" x2="1777.8" y2="1365" stroke="#111" stroke-width="3.2" stroke-linecap="butt"/>
<line x1="1694.6" y1="1351.4" x2="1736" y2="1351.4" stroke="#111" stroke-width="3.2" stroke-linecap="butt"/>
<polygon points="1745.8,1351.4 1727.8,1361.4 1727.8,1341.4" fill="#111"/>
<polygon points="1781.2,1351.4 1799.2,1341.4 1799.2,1361.4" fill="#111"/>
<line x1="1790" y1="1351.4" x2="1800" y2="1351.4" stroke="#111" stroke-width="3.2" stroke-linecap="butt"/>
<text x="1689.4" y="1411.4" font-size="57" fill="#222" text-anchor="start" textLength="61.6" lengthAdjust="spacingAndGlyphs" stroke="#fff" stroke-width="1.0">62</text>
<text x="172.3" y="1451.2" font-size="36.3" fill="#444" text-anchor="start" textLength="240" lengthAdjust="spacingAndGlyphs" stroke="#fff" stroke-width="0.8">&#216; 1x30-72 mm</text>
<text x="478.3" y="1451.2" font-size="36.3" fill="#444" text-anchor="start" textLength="240" lengthAdjust="spacingAndGlyphs" stroke="#fff" stroke-width="0.8">&#216; 1x30-72 mm</text>
<text x="808.3" y="842.0" font-size="36.3" fill="#444" text-anchor="start" textLength="240" lengthAdjust="spacingAndGlyphs" stroke="#fff" stroke-width="0.8">&#216; 1x30-72 mm</text>
<text x="1114.5" y="842.0" font-size="36.3" fill="#444" text-anchor="start" textLength="240" lengthAdjust="spacingAndGlyphs" stroke="#fff" stroke-width="0.8">&#216; 1x30-72 mm</text>
<text x="1418.7" y="842.0" font-size="36.3" fill="#444" text-anchor="start" textLength="240" lengthAdjust="spacingAndGlyphs" stroke="#fff" stroke-width="0.8">&#216; 1x30-72 mm</text>
</svg>
</body></html>
